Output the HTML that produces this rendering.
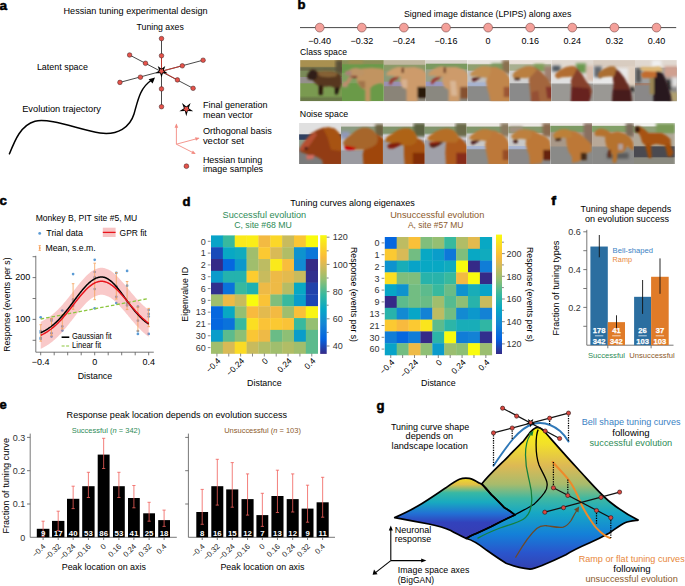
<!DOCTYPE html>
<html><head><meta charset="utf-8"><style>
html,body{margin:0;padding:0;background:#fff;}
svg{display:block;}
text{font-family:"Liberation Sans", sans-serif;}
</style></head><body>
<svg width="685" height="586" viewBox="0 0 685 586" font-family="Liberation Sans, sans-serif">
<defs>
<filter id="bl1" x="-10%" y="-10%" width="120%" height="120%"><feGaussianBlur stdDeviation="0.9"/><feColorMatrix type="matrix" values="0.95 -0.03 -0.03 0 0  -0.03 0.9 -0.03 0 0  -0.02 -0.02 0.86 0 0  0 0 0 1 0"/></filter>
<filter id="bl2" x="-10%" y="-10%" width="120%" height="120%"><feGaussianBlur stdDeviation="0.9"/><feColorMatrix type="matrix" values="0.9 -0.03 -0.03 0 0  -0.05 0.8 -0.05 0 0  -0.04 -0.04 0.74 0 0  0 0 0 1 0"/></filter>
<filter id="bl0" x="-10%" y="-10%" width="120%" height="120%"><feGaussianBlur stdDeviation="1.5"/></filter>
<clipPath id="cph1"><rect x="300.10" y="60.10" width="41.95" height="41.20"/></clipPath>
<linearGradient id="gph1" x1="0" y1="0" x2="0" y2="1"><stop offset="0.000" stop-color="#a89050"/><stop offset="0.151" stop-color="#a89050"/><stop offset="0.187" stop-color="#6a6a48"/><stop offset="0.240" stop-color="#6a6a48"/><stop offset="0.276" stop-color="#7a8a58"/><stop offset="0.400" stop-color="#7a8a58"/><stop offset="0.418" stop-color="#94908c"/><stop offset="0.543" stop-color="#94908c"/><stop offset="0.578" stop-color="#7a9a50"/><stop offset="0.863" stop-color="#7a9a50"/><stop offset="0.934" stop-color="#6a7a48"/><stop offset="0.996" stop-color="#6a7a48"/></linearGradient>
<clipPath id="cph2"><rect x="341.95" y="60.10" width="41.95" height="41.20"/></clipPath>
<linearGradient id="gph2" x1="0" y1="0" x2="0" y2="1"><stop offset="0.000" stop-color="#8a9058"/><stop offset="0.080" stop-color="#8a9058"/><stop offset="0.116" stop-color="#6a9a4a"/><stop offset="0.294" stop-color="#6a9a4a"/><stop offset="0.329" stop-color="#80a060"/><stop offset="0.543" stop-color="#80a060"/><stop offset="0.578" stop-color="#6a9a48"/><stop offset="0.996" stop-color="#6a9a48"/></linearGradient>
<clipPath id="cph3"><rect x="383.80" y="60.10" width="41.95" height="41.20"/></clipPath>
<linearGradient id="gph3" x1="0" y1="0" x2="0" y2="1"><stop offset="0.000" stop-color="#c0b8a0"/><stop offset="0.098" stop-color="#c0b8a0"/><stop offset="0.133" stop-color="#8a9a68"/><stop offset="0.240" stop-color="#8a9a68"/><stop offset="0.276" stop-color="#8a9a78"/><stop offset="0.507" stop-color="#8a9a78"/><stop offset="0.543" stop-color="#9a90b0"/><stop offset="0.614" stop-color="#9a90b0"/><stop offset="0.649" stop-color="#8a8478"/><stop offset="0.996" stop-color="#8a8478"/></linearGradient>
<clipPath id="cph4"><rect x="425.65" y="60.10" width="41.95" height="41.20"/></clipPath>
<linearGradient id="gph4" x1="0" y1="0" x2="0" y2="1"><stop offset="0.000" stop-color="#d8d4cc"/><stop offset="0.071" stop-color="#d8d4cc"/><stop offset="0.107" stop-color="#7a9a60"/><stop offset="0.205" stop-color="#7a9a60"/><stop offset="0.240" stop-color="#9aa088"/><stop offset="0.507" stop-color="#9aa088"/><stop offset="0.543" stop-color="#9a98c0"/><stop offset="0.614" stop-color="#9a98c0"/><stop offset="0.649" stop-color="#8a8880"/><stop offset="0.996" stop-color="#8a8880"/></linearGradient>
<clipPath id="cph5"><rect x="467.50" y="60.10" width="41.95" height="41.20"/></clipPath>
<linearGradient id="gph5" x1="0" y1="0" x2="0" y2="1"><stop offset="0.000" stop-color="#e8e4e0"/><stop offset="0.080" stop-color="#e8e4e0"/><stop offset="0.116" stop-color="#90a070"/><stop offset="0.240" stop-color="#90a070"/><stop offset="0.276" stop-color="#c0c0c0"/><stop offset="0.507" stop-color="#c0c0c0"/><stop offset="0.561" stop-color="#a8b4d0"/><stop offset="0.614" stop-color="#a8b4d0"/><stop offset="0.649" stop-color="#8a8a88"/><stop offset="0.996" stop-color="#8a8a88"/></linearGradient>
<clipPath id="cph6"><rect x="509.35" y="60.10" width="41.95" height="41.20"/></clipPath>
<linearGradient id="gph6" x1="0" y1="0" x2="0" y2="1"><stop offset="0.000" stop-color="#e8e0d8"/><stop offset="0.080" stop-color="#e8e0d8"/><stop offset="0.116" stop-color="#a8b090"/><stop offset="0.240" stop-color="#a8b090"/><stop offset="0.276" stop-color="#d0d0d0"/><stop offset="0.543" stop-color="#d0d0d0"/><stop offset="0.578" stop-color="#8a8a8a"/><stop offset="0.996" stop-color="#8a8a8a"/></linearGradient>
<clipPath id="cph7"><rect x="551.20" y="60.10" width="41.95" height="41.20"/></clipPath>
<linearGradient id="gph7" x1="0" y1="0" x2="0" y2="1"><stop offset="0.000" stop-color="#e0d8d0"/><stop offset="0.116" stop-color="#e0d8d0"/><stop offset="0.276" stop-color="#e0e0e0"/><stop offset="0.543" stop-color="#e0e0e0"/><stop offset="0.596" stop-color="#9a9894"/><stop offset="0.996" stop-color="#9a9894"/></linearGradient>
<clipPath id="cph8"><rect x="593.05" y="60.10" width="41.95" height="41.20"/></clipPath>
<linearGradient id="gph8" x1="0" y1="0" x2="0" y2="1"><stop offset="0.000" stop-color="#d8ccc0"/><stop offset="0.133" stop-color="#d8ccc0"/><stop offset="0.240" stop-color="#e8e8e8"/><stop offset="0.543" stop-color="#e8e8e8"/><stop offset="0.614" stop-color="#9a9894"/><stop offset="0.996" stop-color="#9a9894"/></linearGradient>
<clipPath id="cph9"><rect x="634.90" y="60.10" width="41.95" height="41.20"/></clipPath>
<linearGradient id="gph9" x1="0" y1="0" x2="0" y2="1"><stop offset="0.000" stop-color="#e0d8d0"/><stop offset="0.169" stop-color="#e0d8d0"/><stop offset="0.205" stop-color="#a0a0a0"/><stop offset="0.543" stop-color="#a0a0a0"/><stop offset="0.561" stop-color="#a08070"/><stop offset="0.596" stop-color="#a08070"/><stop offset="0.632" stop-color="#8a8888"/><stop offset="0.996" stop-color="#8a8888"/></linearGradient>
<clipPath id="cph10"><rect x="299.10" y="123.00" width="41.95" height="41.00"/></clipPath>
<linearGradient id="gph10" x1="0" y1="0" x2="0" y2="1"><stop offset="0.002" stop-color="#e0e0e0"/><stop offset="0.262" stop-color="#e0e0e0"/><stop offset="0.289" stop-color="#304060"/><stop offset="0.396" stop-color="#304060"/><stop offset="0.423" stop-color="#8a9a8a"/><stop offset="0.566" stop-color="#8a9a8a"/><stop offset="0.691" stop-color="#7a7a7a"/><stop offset="1.000" stop-color="#7a7a7a"/></linearGradient>
<clipPath id="cph11"><rect x="340.95" y="123.00" width="41.95" height="41.00"/></clipPath>
<linearGradient id="gph11" x1="0" y1="0" x2="0" y2="1"><stop offset="0.002" stop-color="#e0dcd8"/><stop offset="0.074" stop-color="#e0dcd8"/><stop offset="0.101" stop-color="#8a9a80"/><stop offset="0.244" stop-color="#8a9a80"/><stop offset="0.333" stop-color="#c0c0c8"/><stop offset="0.637" stop-color="#c0c0c8"/><stop offset="0.691" stop-color="#9a9aa0"/><stop offset="1.000" stop-color="#9a9aa0"/></linearGradient>
<clipPath id="cph12"><rect x="382.80" y="123.00" width="41.95" height="41.00"/></clipPath>
<linearGradient id="gph12" x1="0" y1="0" x2="0" y2="1"><stop offset="0.002" stop-color="#e8e4e0"/><stop offset="0.074" stop-color="#e8e4e0"/><stop offset="0.101" stop-color="#80946c"/><stop offset="0.244" stop-color="#80946c"/><stop offset="0.297" stop-color="#d0d0d8"/><stop offset="0.387" stop-color="#d0d0d8"/><stop offset="0.441" stop-color="#a0a0a8"/><stop offset="1.000" stop-color="#a0a0a8"/></linearGradient>
<clipPath id="cph13"><rect x="424.65" y="123.00" width="41.95" height="41.00"/></clipPath>
<linearGradient id="gph13" x1="0" y1="0" x2="0" y2="1"><stop offset="0.002" stop-color="#e8e4e0"/><stop offset="0.074" stop-color="#e8e4e0"/><stop offset="0.101" stop-color="#80946c"/><stop offset="0.244" stop-color="#80946c"/><stop offset="0.297" stop-color="#d0d0d8"/><stop offset="0.387" stop-color="#d0d0d8"/><stop offset="0.441" stop-color="#a0a0a8"/><stop offset="1.000" stop-color="#a0a0a8"/></linearGradient>
<clipPath id="cph14"><rect x="466.50" y="123.00" width="41.95" height="41.00"/></clipPath>
<linearGradient id="gph14" x1="0" y1="0" x2="0" y2="1"><stop offset="0.002" stop-color="#ece8e4"/><stop offset="0.074" stop-color="#ece8e4"/><stop offset="0.101" stop-color="#80966a"/><stop offset="0.226" stop-color="#80966a"/><stop offset="0.280" stop-color="#c8c8c8"/><stop offset="0.548" stop-color="#c8c8c8"/><stop offset="0.575" stop-color="#a8b4d0"/><stop offset="0.619" stop-color="#a8b4d0"/><stop offset="0.655" stop-color="#8a8a88"/><stop offset="1.000" stop-color="#8a8a88"/></linearGradient>
<clipPath id="cph15"><rect x="508.35" y="123.00" width="41.95" height="41.00"/></clipPath>
<linearGradient id="gph15" x1="0" y1="0" x2="0" y2="1"><stop offset="0.002" stop-color="#ece8e4"/><stop offset="0.074" stop-color="#ece8e4"/><stop offset="0.101" stop-color="#84986c"/><stop offset="0.226" stop-color="#84986c"/><stop offset="0.262" stop-color="#c8c8c8"/><stop offset="0.548" stop-color="#c8c8c8"/><stop offset="0.575" stop-color="#a8b4d0"/><stop offset="0.619" stop-color="#a8b4d0"/><stop offset="0.655" stop-color="#8a8888"/><stop offset="1.000" stop-color="#8a8888"/></linearGradient>
<clipPath id="cph16"><rect x="550.20" y="123.00" width="41.95" height="41.00"/></clipPath>
<linearGradient id="gph16" x1="0" y1="0" x2="0" y2="1"><stop offset="0.002" stop-color="#ece8e4"/><stop offset="0.056" stop-color="#ece8e4"/><stop offset="0.083" stop-color="#7c9a64"/><stop offset="0.199" stop-color="#7c9a64"/><stop offset="0.244" stop-color="#a89888"/><stop offset="0.548" stop-color="#a89888"/><stop offset="0.601" stop-color="#8a8a88"/><stop offset="1.000" stop-color="#8a8a88"/></linearGradient>
<clipPath id="cph17"><rect x="592.05" y="123.00" width="41.95" height="41.00"/></clipPath>
<linearGradient id="gph17" x1="0" y1="0" x2="0" y2="1"><stop offset="0.002" stop-color="#f0ece8"/><stop offset="0.056" stop-color="#f0ece8"/><stop offset="0.083" stop-color="#82a068"/><stop offset="0.199" stop-color="#82a068"/><stop offset="0.244" stop-color="#b8a898"/><stop offset="0.548" stop-color="#b8a898"/><stop offset="0.601" stop-color="#8a8a88"/><stop offset="1.000" stop-color="#8a8a88"/></linearGradient>
<clipPath id="cph18"><rect x="633.90" y="123.00" width="41.00" height="41.00"/></clipPath>
<linearGradient id="gph18" x1="0" y1="0" x2="0" y2="1"><stop offset="0.002" stop-color="#f0f0ec"/><stop offset="0.065" stop-color="#f0f0ec"/><stop offset="0.101" stop-color="#90a078"/><stop offset="0.226" stop-color="#90a078"/><stop offset="0.262" stop-color="#b0a898"/><stop offset="0.548" stop-color="#b0a898"/><stop offset="0.584" stop-color="#4a4a50"/><stop offset="0.816" stop-color="#4a4a50"/><stop offset="0.852" stop-color="#8a8a80"/><stop offset="1.000" stop-color="#8a8a80"/></linearGradient>
<linearGradient id="parv" x1="0" y1="0" x2="0" y2="1"><stop offset="0.000" stop-color="#f9fb0e"/><stop offset="0.062" stop-color="#fae41e"/><stop offset="0.125" stop-color="#fcce2e"/><stop offset="0.188" stop-color="#f8bb3d"/><stop offset="0.250" stop-color="#d9ba56"/><stop offset="0.312" stop-color="#b6bc64"/><stop offset="0.375" stop-color="#92bf73"/><stop offset="0.438" stop-color="#65bc88"/><stop offset="0.500" stop-color="#38b99e"/><stop offset="0.562" stop-color="#1fb0b2"/><stop offset="0.625" stop-color="#06a7c6"/><stop offset="0.688" stop-color="#0d96cd"/><stop offset="0.750" stop-color="#1485d4"/><stop offset="0.812" stop-color="#0c74da"/><stop offset="0.875" stop-color="#0363e1"/><stop offset="0.938" stop-color="#1c46b4"/><stop offset="1.000" stop-color="#352a87"/></linearGradient>
<linearGradient id="gmt" gradientUnits="userSpaceOnUse" x1="0" y1="427" x2="0" y2="570">
<stop offset="0" stop-color="#f9f50f"/><stop offset="0.12" stop-color="#f2e02a"/><stop offset="0.27" stop-color="#ddb954"/>
<stop offset="0.40" stop-color="#a8bb6c"/><stop offset="0.50" stop-color="#3fb8a2"/><stop offset="0.60" stop-color="#17a8c4"/>
<stop offset="0.75" stop-color="#1480d8"/><stop offset="0.88" stop-color="#2a55cc"/><stop offset="1" stop-color="#3440b0"/></linearGradient>
<linearGradient id="ghl" gradientUnits="userSpaceOnUse" x1="0" y1="477" x2="0" y2="540">
<stop offset="0" stop-color="#f5e020"/><stop offset="0.12" stop-color="#e0c048"/><stop offset="0.25" stop-color="#38b8a4"/>
<stop offset="0.40" stop-color="#18aac0"/><stop offset="0.58" stop-color="#2270d4"/><stop offset="0.72" stop-color="#3242bc"/><stop offset="1" stop-color="#3a3ab0"/></linearGradient>
</defs>
<rect width="685" height="586" fill="#fff"/>
<text x="-0.40" y="9.60" font-size="12" fill="#000" font-weight="bold" textLength="7.60" lengthAdjust="spacingAndGlyphs" stroke="#000" stroke-width="0.5">a</text>
<text x="63.50" y="14.00" font-size="9" textLength="144.10" lengthAdjust="spacingAndGlyphs" >Hessian tuning experimental design</text>
<text x="136.60" y="30.40" font-size="9" textLength="47.20" lengthAdjust="spacingAndGlyphs" >Tuning axes</text>
<text x="36.90" y="69.50" font-size="9" textLength="51.10" lengthAdjust="spacingAndGlyphs" >Latent space</text>
<text x="22.20" y="112.00" font-size="9" textLength="78.70" lengthAdjust="spacingAndGlyphs" >Evolution trajectory</text>
<text x="202.90" y="107.50" font-size="9" textLength="64.60" lengthAdjust="spacingAndGlyphs" >Final generation</text>
<text x="202.90" y="117.50" font-size="9" textLength="49.80" lengthAdjust="spacingAndGlyphs" >mean vector</text>
<text x="202.90" y="134.30" font-size="9" textLength="69.00" lengthAdjust="spacingAndGlyphs" >Orthogonal basis</text>
<text x="202.90" y="144.00" font-size="9" textLength="41.00" lengthAdjust="spacingAndGlyphs" >vector set</text>
<text x="202.90" y="162.80" font-size="9" textLength="59.40" lengthAdjust="spacingAndGlyphs" >Hessian tuning</text>
<text x="202.90" y="172.10" font-size="9" textLength="60.20" lengthAdjust="spacingAndGlyphs" >image samples</text>
<path d="M9.2,154.4 C15,140 21,125 35,121.2 C50,117.5 80,130 100,133 C118,135.5 130,127 134,114 C138,100 140,88 151,80.5" fill="none" stroke="#000" stroke-width="1.5"/>
<polygon points="155,77.6 148.6,79.2 152.6,83.4" fill="#000"/>
<line x1="161.50" y1="38.60" x2="161.50" y2="106.70" stroke="#1a1a1a" stroke-width="0.8" />
<line x1="129.60" y1="55.00" x2="193.10" y2="88.30" stroke="#1a1a1a" stroke-width="0.8" />
<line x1="119.90" y1="82.40" x2="203.10" y2="60.20" stroke="#1a1a1a" stroke-width="0.8" />
<line x1="161.50" y1="71.20" x2="161.50" y2="55.70" stroke="#c8362c" stroke-width="0.9" />
<line x1="161.50" y1="71.20" x2="182.30" y2="65.80" stroke="#c8362c" stroke-width="0.9" />
<line x1="161.50" y1="71.20" x2="177.40" y2="79.90" stroke="#c8362c" stroke-width="0.9" />
<circle cx="161.50" cy="38.60" r="2.3" fill="#e5534b" stroke="#3a2020" stroke-width="0.5" />
<circle cx="161.50" cy="55.70" r="2.3" fill="#e5534b" stroke="#3a2020" stroke-width="0.5" />
<circle cx="161.50" cy="88.90" r="2.3" fill="#e5534b" stroke="#3a2020" stroke-width="0.5" />
<circle cx="161.50" cy="106.70" r="2.3" fill="#e5534b" stroke="#3a2020" stroke-width="0.5" />
<circle cx="129.60" cy="55.00" r="2.3" fill="#e5534b" stroke="#3a2020" stroke-width="0.5" />
<circle cx="145.50" cy="63.30" r="2.3" fill="#e5534b" stroke="#3a2020" stroke-width="0.5" />
<circle cx="177.40" cy="79.90" r="2.3" fill="#e5534b" stroke="#3a2020" stroke-width="0.5" />
<circle cx="193.10" cy="88.30" r="2.3" fill="#e5534b" stroke="#3a2020" stroke-width="0.5" />
<circle cx="119.90" cy="82.40" r="2.3" fill="#e5534b" stroke="#3a2020" stroke-width="0.5" />
<circle cx="140.40" cy="77.20" r="2.3" fill="#e5534b" stroke="#3a2020" stroke-width="0.5" />
<circle cx="182.30" cy="65.80" r="2.3" fill="#e5534b" stroke="#3a2020" stroke-width="0.5" />
<circle cx="203.10" cy="60.20" r="2.3" fill="#e5534b" stroke="#3a2020" stroke-width="0.5" />
<polygon points="161.50,77.60 160.09,73.14 155.41,73.18 159.22,70.46 157.74,66.02 161.50,68.80 165.26,66.02 163.78,70.46 167.59,73.18 162.91,73.14" fill="#000"/>
<polygon points="161.50,74.02 160.51,72.56 158.82,72.07 159.90,70.68 159.84,68.92 161.50,69.52 163.16,68.92 163.10,70.68 164.18,72.07 162.49,72.56" fill="#e5534b"/>
<polygon points="186.30,116.30 184.83,111.02 179.36,111.26 183.92,108.23 182.01,103.09 186.30,106.50 190.59,103.09 188.68,108.23 193.24,111.26 187.77,111.02" fill="#000"/>
<polygon points="186.30,112.21 185.27,110.42 183.25,109.99 184.64,108.46 184.41,106.40 186.30,107.25 188.19,106.40 187.96,108.46 189.35,109.99 187.33,110.42" fill="#e5534b"/>
<line x1="176.40" y1="144.20" x2="176.40" y2="124.50" stroke="#f28b82" stroke-width="0.9" />
<polygon points="176.40,123.50 178.20,127.70 174.60,127.70" fill="#f28b82"/>
<line x1="176.40" y1="144.20" x2="198.60" y2="138.20" stroke="#f28b82" stroke-width="0.9" />
<polygon points="199.57,137.94 195.98,140.77 195.04,137.30" fill="#f28b82"/>
<line x1="176.40" y1="144.20" x2="194.90" y2="153.60" stroke="#f28b82" stroke-width="0.9" />
<polygon points="195.79,154.05 191.23,153.76 192.86,150.55" fill="#f28b82"/>
<circle cx="186.40" cy="166.20" r="2.4" fill="#e5534b" stroke="#3a2020" stroke-width="0.5" />
<text x="297.60" y="9.40" font-size="12" fill="#000" font-weight="bold" textLength="8.00" lengthAdjust="spacingAndGlyphs" stroke="#000" stroke-width="0.5">b</text>
<text x="404.00" y="16.90" font-size="9" textLength="167.40" lengthAdjust="spacingAndGlyphs" >Signed image distance (LPIPS) along axes</text>
<line x1="300.00" y1="27.60" x2="676.20" y2="27.60" stroke="#333" stroke-width="0.9" />
<circle cx="319.70" cy="27.60" r="4.4" fill="#f4a09a" stroke="#7a4a48" stroke-width="0.6" />
<text x="319.70" y="44.30" font-size="9" text-anchor="middle" >−0.40</text>
<circle cx="361.80" cy="27.60" r="4.4" fill="#f4a09a" stroke="#7a4a48" stroke-width="0.6" />
<text x="361.80" y="44.30" font-size="9" text-anchor="middle" >−0.32</text>
<circle cx="403.90" cy="27.60" r="4.4" fill="#f4a09a" stroke="#7a4a48" stroke-width="0.6" />
<text x="403.90" y="44.30" font-size="9" text-anchor="middle" >−0.24</text>
<circle cx="446.00" cy="27.60" r="4.4" fill="#f4a09a" stroke="#7a4a48" stroke-width="0.6" />
<text x="446.00" y="44.30" font-size="9" text-anchor="middle" >−0.16</text>
<circle cx="488.10" cy="27.60" r="4.4" fill="#f4a09a" stroke="#7a4a48" stroke-width="0.6" />
<text x="488.10" y="44.30" font-size="9" text-anchor="middle" >0</text>
<circle cx="530.20" cy="27.60" r="4.4" fill="#f4a09a" stroke="#7a4a48" stroke-width="0.6" />
<text x="530.20" y="44.30" font-size="9" text-anchor="middle" >0.16</text>
<circle cx="572.30" cy="27.60" r="4.4" fill="#f4a09a" stroke="#7a4a48" stroke-width="0.6" />
<text x="572.30" y="44.30" font-size="9" text-anchor="middle" >0.24</text>
<circle cx="614.40" cy="27.60" r="4.4" fill="#f4a09a" stroke="#7a4a48" stroke-width="0.6" />
<text x="614.40" y="44.30" font-size="9" text-anchor="middle" >0.32</text>
<circle cx="656.50" cy="27.60" r="4.4" fill="#f4a09a" stroke="#7a4a48" stroke-width="0.6" />
<text x="656.50" y="44.30" font-size="9" text-anchor="middle" >0.40</text>
<text x="300.10" y="54.60" font-size="9" textLength="46.90" lengthAdjust="spacingAndGlyphs" >Class space</text>
<text x="299.80" y="117.10" font-size="9" textLength="48.40" lengthAdjust="spacingAndGlyphs" >Noise space</text>
<g clip-path="url(#cph1)">
<rect x="300.10" y="60.10" width="41.95" height="41.20" fill="url(#gph1)" />
<g filter="url(#bl0)"><polygon points="335.66,60.10 342.99,60.10 342.99,73.66 335.66,73.66" fill="#5a5038"/></g>
<g filter="url(#bl1)"><polygon points="310.00,70.00 313.66,69.26 318.06,71.46 324.66,70.73 332.72,71.10 338.59,72.93 341.52,76.60 341.89,83.19 340.06,88.33 338.59,89.79 337.12,94.19 334.92,94.19 335.66,88.33 330.52,86.13 323.19,86.86 322.46,94.92 318.79,94.92 318.79,86.13 314.40,82.46 312.20,79.53 308.53,79.53 307.06,77.33 307.43,75.13 309.26,72.93" fill="#5a3e26"/><polygon points="318.06,71.83 324.66,71.10 332.72,71.46 337.86,73.30 335.66,76.60 328.33,77.33 320.99,76.60 318.06,74.40" fill="#8a6a40"/><polygon points="307.80,73.66 310.73,70.00 315.13,70.00 317.33,73.66 316.60,78.79 312.93,80.26 308.53,79.16 307.06,76.60" fill="#33241a"/><polygon points="318.94,85.39 322.31,85.39 322.31,94.92 318.94,94.92" fill="#22180f"/><polygon points="334.92,87.59 339.32,87.59 337.86,94.19 334.92,94.19" fill="#22180f"/></g>
</g>
<g clip-path="url(#cph2)">
<rect x="341.95" y="60.10" width="41.95" height="41.20" fill="url(#gph2)" />
<g filter="url(#bl0)"><polygon points="342.10,82.46 347.60,82.46 347.60,86.86 342.10,86.86" fill="#c09080"/><polygon points="348.33,60.10 362.99,60.10 362.99,63.40 348.33,63.40" fill="#a09050"/></g>
<g filter="url(#bl1)"><polygon points="361.53,68.53 371.79,67.80 380.59,68.53 384.99,70.00 384.99,86.86 382.06,83.19 379.12,83.19 373.26,85.39 370.33,88.33 370.33,101.89 365.19,101.89 365.19,89.79 361.53,88.33 357.86,83.93 356.40,79.53 357.13,75.86" fill="#c8a070"/><polygon points="345.40,71.46 347.60,70.73 352.00,68.53 355.66,67.80 360.06,68.53 362.99,70.00 364.46,72.20 362.99,75.13 358.60,76.60 355.66,77.33 352.00,76.60 348.33,75.50 345.40,74.40" fill="#c4a074"/><polygon points="345.40,71.46 351.26,70.73 351.26,75.86 345.40,74.76" fill="#b09088"/><polygon points="350.53,75.86 357.13,75.86 357.13,78.06 350.53,78.06" fill="#8a4038"/><polygon points="348.33,77.33 352.73,77.33 349.06,83.19 345.40,85.39 343.20,86.13 343.93,83.93 346.87,80.99" fill="#c89878"/><polygon points="357.86,80.99 365.19,80.99 365.19,88.33 361.53,88.33 358.60,83.93" fill="#a88058"/></g>
</g>
<g clip-path="url(#cph3)">
<rect x="383.80" y="60.10" width="41.95" height="41.20" fill="url(#gph3)" />
<g filter="url(#bl1)"><polygon points="404.99,67.43 414.52,67.06 422.59,69.26 426.99,73.66 426.99,88.33 422.59,86.86 418.19,88.33 417.46,101.89 406.46,101.89 406.46,89.79 402.79,87.59 400.60,83.19 399.86,78.79 402.06,76.60" fill="#d4a87a"/><polygon points="386.30,73.66 388.13,71.46 393.26,68.53 397.66,67.06 402.79,67.06 407.19,68.53 406.46,73.66 403.53,76.60 397.66,77.33 391.80,75.86 386.67,75.50" fill="#d4aa7c"/><polygon points="401.70,67.80 403.89,67.80 403.89,72.93 401.70,72.93" fill="#6a3a28"/><polygon points="388.87,83.93 390.33,79.53 394.00,77.33 399.13,76.60 397.66,78.79 393.26,80.99 391.06,84.66" fill="#a04038"/><polygon points="417.46,86.86 426.99,86.86 426.99,97.86 417.46,97.86" fill="#2a1a10"/><polygon points="401.33,79.53 407.19,79.53 407.19,88.33 402.06,87.59" fill="#e0c0a0"/></g>
</g>
<g clip-path="url(#cph4)">
<rect x="425.65" y="60.10" width="41.95" height="41.20" fill="url(#gph4)" />
<g filter="url(#bl1)"><polygon points="446.26,67.06 456.52,67.06 464.59,70.00 468.99,75.13 468.99,88.33 464.59,86.86 460.19,88.33 459.46,101.89 448.46,101.89 448.46,89.79 444.79,87.59 442.60,83.19 441.86,78.79 444.06,76.60" fill="#d4a87a"/><polygon points="427.93,74.40 430.13,71.46 436.00,67.80 441.13,66.33 446.26,67.06 449.19,68.53 448.46,73.66 445.53,76.60 439.66,77.33 433.80,75.86 428.30,75.50" fill="#d0a676"/><polygon points="443.70,67.43 445.89,67.43 445.89,72.93 443.70,72.93" fill="#6a3a28"/><polygon points="430.50,83.19 432.33,79.53 436.00,77.33 441.13,76.60 439.66,78.79 435.26,80.99 432.70,84.29" fill="#a04038"/><polygon points="460.19,86.86 468.99,86.86 468.99,98.59 460.19,98.59" fill="#8a5a3a"/><polygon points="449.93,80.99 455.79,80.99 457.26,95.66 451.39,95.66" fill="#e2c4a4"/></g>
</g>
<g clip-path="url(#cph5)">
<rect x="467.50" y="60.10" width="41.95" height="41.20" fill="url(#gph5)" />
<g filter="url(#bl0)"><polygon points="491.19,63.40 502.19,63.40 502.19,71.46 491.19,71.46" fill="#7a9a60"/><polygon points="502.19,60.10 510.99,60.10 510.99,73.66 502.19,73.66" fill="#8a7050"/></g>
<g filter="url(#bl1)"><polygon points="488.99,67.06 496.33,67.06 503.66,70.73 508.06,75.13 510.99,80.99 510.99,101.89 490.46,101.89 488.99,94.19 486.79,86.86 486.06,80.99 487.53,77.33" fill="#c8925a"/><polygon points="469.93,74.40 471.40,72.20 476.53,68.53 481.66,66.33 487.53,66.33 490.46,67.80 491.19,70.73 489.73,75.13 487.53,78.06 481.66,77.33 476.53,76.60 471.40,76.23" fill="#c89a60"/><polygon points="472.13,78.06 476.53,77.33 481.66,77.33 476.53,80.26 473.60,81.73 472.13,80.26" fill="#5a2020"/><polygon points="503.66,86.86 510.99,86.86 510.99,97.12 503.66,97.12" fill="#a06040"/></g>
</g>
<g clip-path="url(#cph6)">
<rect x="509.35" y="60.10" width="41.95" height="41.20" fill="url(#gph6)" />
<g filter="url(#bl0)"><polygon points="533.93,64.13 544.19,64.13 544.19,71.46 533.93,71.46" fill="#80a058"/><polygon points="544.19,66.33 552.99,66.33 552.99,83.19 544.19,83.19" fill="#a08070"/></g>
<g filter="url(#bl1)"><polygon points="529.53,66.33 534.66,67.06 541.26,71.46 547.12,78.06 550.79,83.93 552.99,89.79 552.99,101.89 530.99,101.89 530.26,94.19 529.53,86.86 528.79,80.26 529.53,75.86" fill="#a8704a"/><polygon points="512.30,75.13 514.87,71.46 520.00,68.53 525.86,66.33 530.26,65.96 533.19,67.06 536.86,70.00 530.99,76.60 527.33,78.06 520.00,78.06 514.87,78.79 513.40,77.33" fill="#c08a50"/><polygon points="514.13,77.70 520.00,77.70 520.00,79.89 514.87,80.26" fill="#3a2020"/><polygon points="545.66,86.86 552.99,86.86 552.99,98.59 547.12,98.59" fill="#8a4034"/><polygon points="531.73,91.99 538.33,90.52 539.79,101.89 530.99,101.89" fill="#9a5a40"/></g>
</g>
<g clip-path="url(#cph7)">
<rect x="551.20" y="60.10" width="41.95" height="41.20" fill="url(#gph7)" />
<g filter="url(#bl0)"><polygon points="552.10,65.60 560.53,65.60 560.53,71.46 552.10,71.46" fill="#505860"/><polygon points="575.93,63.40 586.19,63.40 586.19,72.93 575.93,72.93" fill="#6a9a50"/><polygon points="586.19,65.60 594.99,65.60 594.99,80.99 586.19,80.99" fill="#d8c0b0"/></g>
<g filter="url(#bl1)"><polygon points="571.53,66.33 575.93,67.06 581.79,73.66 586.19,80.99 590.59,86.86 592.06,91.26 590.59,97.12 589.12,101.89 570.79,101.89 571.53,94.19 571.53,86.86 570.79,80.99 572.26,76.60" fill="#8a4a34"/><polygon points="571.53,86.86 589.12,88.33 590.59,97.12 589.12,101.89 570.79,101.89" fill="#6a2c28"/><polygon points="555.03,76.60 555.40,73.66 559.80,70.00 565.66,67.06 570.79,65.96 574.46,66.33 576.66,69.26 572.99,76.60 567.86,76.96 562.00,77.33 557.60,78.79" fill="#b87840"/></g>
</g>
<g clip-path="url(#cph8)">
<rect x="593.05" y="60.10" width="41.95" height="41.20" fill="url(#gph8)" />
<g filter="url(#bl0)"><polygon points="594.10,66.33 601.80,66.33 601.80,77.33 594.10,77.33" fill="#606870"/><polygon points="628.19,66.33 636.99,66.33 636.99,88.33 628.19,88.33" fill="#e0d0c0"/><polygon points="629.66,86.13 634.79,86.13 634.79,91.26 629.66,91.26" fill="#202020"/></g>
<g filter="url(#bl1)"><polygon points="613.53,67.06 619.39,71.46 624.52,78.06 628.92,86.13 631.12,91.99 631.86,101.89 612.06,101.89 612.79,91.99 613.53,83.93 612.79,77.33" fill="#6a3028"/><polygon points="612.79,89.79 630.39,89.79 631.86,101.89 612.06,101.89" fill="#4a2020"/><polygon points="597.77,75.86 598.87,72.20 604.00,68.53 609.86,66.33 614.26,66.33 616.46,68.53 614.26,76.60 609.13,76.60 601.80,77.33 599.60,78.43" fill="#b07840"/></g>
</g>
<g clip-path="url(#cph9)">
<rect x="634.90" y="60.10" width="41.95" height="41.20" fill="url(#gph9)" />
<g filter="url(#bl0)"><polygon points="651.86,60.10 661.39,60.10 661.39,67.06 651.86,67.06" fill="#f0f0f0"/><polygon points="636.10,68.53 640.87,68.53 640.87,82.46 636.10,82.46" fill="#505050"/><polygon points="664.33,66.33 678.99,66.33 678.99,77.33 664.33,77.33" fill="#d0a090"/><polygon points="665.79,79.53 671.66,79.53 671.66,89.79 665.79,89.79" fill="#303030"/><polygon points="671.66,77.33 678.99,77.33 678.99,86.86 671.66,86.86" fill="#e0e0e0"/><polygon points="667.99,91.99 678.99,91.99 678.99,101.89 667.99,101.89" fill="#b0a070"/></g>
<g filter="url(#bl1)"><polygon points="654.06,71.46 659.19,70.73 662.86,73.66 665.79,79.53 668.72,88.33 670.92,95.66 671.66,101.89 653.33,101.89 653.33,88.33 654.06,77.33" fill="#2a1a24"/><polygon points="649.66,77.33 654.06,77.33 654.06,94.19 649.66,94.19" fill="#a09060"/><polygon points="640.87,73.66 645.26,70.73 656.26,70.73 656.26,77.33 649.66,78.06 642.33,78.06" fill="#c87840"/><polygon points="639.40,68.53 642.33,66.70 652.60,67.06 659.19,66.33 662.86,69.26 662.13,71.46 653.33,71.46 642.33,70.73" fill="#e8c888"/></g>
</g>
<g clip-path="url(#cph10)">
<rect x="299.10" y="123.00" width="41.95" height="41.00" fill="url(#gph10)" />
<g filter="url(#bl2)"><polygon points="299.47,149.86 300.93,146.19 305.33,141.06 310.46,133.73 317.06,130.06 322.93,127.87 328.79,127.13 334.66,128.60 339.06,133.00 341.99,138.13 341.99,164.89 322.93,164.89 322.19,160.12 316.33,156.46 311.20,156.46 305.33,153.52 300.93,152.06" fill="#9a5030"/><polygon points="322.93,128.60 328.79,127.50 334.66,128.96 339.06,133.00 341.99,138.13 341.99,151.33 330.99,149.86 327.33,136.66" fill="#b06838"/><polygon points="299.47,149.86 302.40,143.99 308.26,136.66 314.86,132.26 317.06,134.46 312.66,141.06 308.26,146.93 303.87,150.59" fill="#c06850"/><polygon points="304.60,146.93 307.53,146.93 307.53,149.86 304.60,149.86" fill="#402020"/><polygon points="306.06,155.36 314.13,154.99 313.40,159.02 306.80,159.39" fill="#e08a80"/></g>
</g>
<g clip-path="url(#cph11)">
<rect x="340.95" y="123.00" width="41.95" height="41.00" fill="url(#gph11)" />
<g filter="url(#bl0)"><polygon points="341.10,131.53 349.53,131.53 349.53,138.86 341.10,138.86" fill="#9098b8"/><polygon points="375.19,124.20 383.99,124.20 383.99,136.66 375.19,136.66" fill="#6a6040"/></g>
<g filter="url(#bl2)"><polygon points="364.19,148.39 371.52,146.19 375.19,133.00 383.99,138.86 383.99,164.89 363.46,164.89 362.73,154.26" fill="#a85a30"/><polygon points="342.93,142.53 345.87,138.86 351.00,134.46 356.86,130.06 361.99,127.87 367.86,127.87 372.99,130.06 376.66,134.46 378.12,138.86 376.66,143.99 372.26,146.93 364.93,149.86 354.66,149.86 348.80,148.39 344.40,146.19" fill="#b07a48"/><polygon points="344.40,145.46 349.53,146.19 356.13,147.66 354.66,149.86 348.80,150.23 345.13,149.13" fill="#d03030"/></g>
</g>
<g clip-path="url(#cph12)">
<rect x="382.80" y="123.00" width="41.95" height="41.00" fill="url(#gph12)" />
<g filter="url(#bl0)"><polygon points="413.52,123.10 425.99,123.10 425.99,136.66 413.52,136.66" fill="#5a6040"/></g>
<g filter="url(#bl2)"><polygon points="403.99,143.99 411.33,143.99 417.19,138.13 421.59,140.33 425.99,145.46 425.99,164.89 404.73,164.89 403.99,154.99" fill="#b06838"/><polygon points="412.79,152.79 425.99,152.79 425.99,164.89 412.79,164.89" fill="#8a4028"/><polygon points="385.30,139.60 387.13,136.66 393.00,133.00 398.13,130.06 403.99,128.23 409.86,128.60 414.26,131.53 417.19,136.66 416.46,142.53 411.33,145.46 403.99,145.46 396.66,143.99 389.33,142.53 385.67,141.43" fill="#b8783e"/><polygon points="387.13,145.46 390.80,143.26 398.13,142.53 402.53,143.99 396.66,146.93 393.00,148.39 388.60,148.39" fill="#8a3028"/></g>
</g>
<g clip-path="url(#cph13)">
<rect x="424.65" y="123.00" width="41.95" height="41.00" fill="url(#gph13)" />
<g filter="url(#bl0)"><polygon points="455.52,123.10 467.99,123.10 467.99,136.66 455.52,136.66" fill="#6a6a48"/></g>
<g filter="url(#bl2)"><polygon points="445.99,142.53 454.79,141.06 459.19,136.66 463.59,141.06 467.99,146.19 467.99,164.89 445.99,164.89 445.26,152.79" fill="#b87040"/><polygon points="456.26,152.79 467.99,152.79 467.99,164.89 456.26,164.89" fill="#904030"/><polygon points="426.93,138.86 429.87,135.20 435.73,131.53 441.60,129.33 447.46,128.60 453.33,130.06 457.72,134.46 459.19,139.60 456.26,142.53 449.66,142.53 442.33,141.79 435.00,141.79 429.87,141.06" fill="#c08448"/><polygon points="429.13,143.26 435.00,141.79 443.79,141.79 438.66,145.46 433.53,147.66 430.60,146.93" fill="#5a2a20"/><polygon points="429.50,142.53 438.66,141.43 438.66,143.26 429.87,143.99" fill="#b04030"/></g>
</g>
<g clip-path="url(#cph14)">
<rect x="466.50" y="123.00" width="41.95" height="41.00" fill="url(#gph14)" />
<g filter="url(#bl0)"><polygon points="500.46,123.10 509.99,123.10 509.99,136.66 500.46,136.66" fill="#8a7a60"/></g>
<g filter="url(#bl2)"><polygon points="487.99,130.06 495.33,130.80 502.66,134.46 507.06,138.86 509.99,145.46 509.99,164.89 488.73,164.89 487.26,156.46 485.79,149.86 485.06,143.99 486.53,140.33" fill="#c8905a"/><polygon points="468.93,138.13 471.13,135.20 476.26,131.53 482.13,129.33 487.99,129.33 492.39,131.53 490.19,138.13 486.53,141.06 480.66,140.33 474.80,140.33 470.40,139.60" fill="#c8945a"/><polygon points="471.13,141.06 475.53,140.33 480.66,140.33 475.53,143.26 472.60,144.73 471.13,143.26" fill="#4a2020"/><polygon points="502.66,149.86 509.99,149.86 509.99,160.12 502.66,160.12" fill="#a06040"/></g>
</g>
<g clip-path="url(#cph15)">
<rect x="508.35" y="123.00" width="41.95" height="41.00" fill="url(#gph15)" />
<g filter="url(#bl0)"><polygon points="542.46,123.10 551.99,123.10 551.99,136.66 542.46,136.66" fill="#8a6a50"/><polygon points="509.10,126.40 522.66,126.40 522.66,133.00 509.10,133.00" fill="#a09080"/></g>
<g filter="url(#bl2)"><polygon points="526.33,130.06 533.66,130.80 540.99,134.46 546.12,136.66 549.79,140.33 551.99,151.33 549.06,154.26 543.19,157.19 541.72,163.06 529.99,164.89 529.26,155.72 527.06,149.86 525.60,143.99 526.33,138.86" fill="#c89058"/><polygon points="510.93,135.93 513.87,133.00 519.00,130.06 524.86,129.33 529.99,130.06 532.19,133.73 529.99,138.86 526.33,139.60 521.20,138.86 515.33,139.60 512.40,138.86" fill="#c8985e"/><polygon points="513.13,139.96 517.53,139.60 517.53,142.89 513.87,143.26" fill="#3a1a18"/><polygon points="543.19,149.86 551.99,149.86 551.99,160.12 543.19,160.12" fill="#6a3020"/></g>
</g>
<g clip-path="url(#cph16)">
<rect x="550.20" y="123.00" width="41.95" height="41.00" fill="url(#gph16)" />
<g filter="url(#bl0)"><polygon points="583.72,123.10 593.99,123.10 593.99,146.19 583.72,146.19" fill="#8a7060"/></g>
<g filter="url(#bl2)"><polygon points="566.86,130.06 575.66,131.53 581.52,135.20 586.66,139.60 591.06,143.99 591.79,151.33 586.66,153.52 582.99,157.19 579.33,161.59 571.99,163.06 571.99,157.19 568.33,151.33 566.86,145.46 566.13,139.60" fill="#c89058"/><polygon points="552.93,135.20 555.87,131.53 561.00,129.33 566.86,129.33 571.26,131.53 571.99,136.66 568.33,138.13 563.20,137.40 557.33,138.86 554.40,138.13" fill="#c8985a"/><polygon points="555.13,138.50 561.00,137.76 561.00,140.33 555.87,141.06" fill="#3a2018"/><polygon points="580.79,152.79 586.66,152.79 586.66,160.12 580.79,160.12" fill="#4a3020"/></g>
</g>
<g clip-path="url(#cph17)">
<rect x="592.05" y="123.00" width="41.95" height="41.00" fill="url(#gph17)" />
<g filter="url(#bl0)"><polygon points="625.72,123.10 633.79,123.10 633.79,136.66 625.72,136.66" fill="#7a6a5a"/><polygon points="606.66,152.79 628.66,152.79 628.66,158.66 606.66,158.66" fill="#5a5a5a"/></g>
<g filter="url(#bl2)"><polygon points="605.20,135.20 611.06,133.00 617.66,131.53 624.99,133.73 630.12,137.40 633.06,142.53 633.79,149.86 631.59,149.86 627.19,146.19 624.26,151.33 621.33,152.79 617.66,152.79 616.93,158.66 616.19,163.06 612.53,163.06 612.53,154.99 609.60,149.86 606.66,146.93 605.20,141.06" fill="#c08850"/><polygon points="594.20,133.00 596.40,130.06 600.80,128.60 606.66,130.06 611.06,133.00 609.60,136.66 605.20,136.66 599.33,135.93 595.67,135.93" fill="#c08850"/><polygon points="608.28,149.86 610.91,149.86 610.91,157.19 608.28,157.19" fill="#6a3020"/><polygon points="618.39,143.99 622.79,143.99 622.79,149.86 618.39,149.86" fill="#c0c0c0"/></g>
</g>
<g clip-path="url(#cph18)">
<rect x="633.90" y="123.00" width="41.00" height="41.00" fill="url(#gph18)" />
<g filter="url(#bl0)"><polygon points="655.99,123.10 677.99,123.10 677.99,133.00 655.99,133.00" fill="#7a9a58"/><polygon points="675.94,122.00 679.45,122.00 679.45,165.99 675.94,165.99" fill="#ffffff"/></g>
<g filter="url(#bl2)"><polygon points="635.10,126.40 639.87,126.40 644.26,129.33 648.66,133.00 655.99,133.00 661.86,133.00 666.99,135.93 670.66,139.60 670.66,146.19 672.86,151.33 673.59,153.52 670.66,154.26 667.72,151.33 664.79,145.46 655.99,143.99 650.86,145.46 650.86,157.19 648.66,157.92 647.20,151.33 645.73,145.46 642.06,142.53 640.60,136.66 638.40,133.00 635.10,132.26" fill="#b06838"/><polygon points="635.10,126.40 639.13,126.40 640.23,130.06 639.13,132.26 635.10,132.26" fill="#3a2018"/><polygon points="645.00,143.99 650.86,143.99 651.60,157.92 648.66,157.92" fill="#a86030"/><polygon points="664.79,143.99 670.66,143.99 672.12,156.46 667.72,156.46" fill="#a86030"/></g>
</g>
<text x="-0.40" y="205.40" font-size="12" fill="#000" font-weight="bold" textLength="7.40" lengthAdjust="spacingAndGlyphs" stroke="#000" stroke-width="0.5">c</text>
<text x="35.70" y="220.70" font-size="9" textLength="101.60" lengthAdjust="spacingAndGlyphs" >Monkey B, PIT site #5, MU</text>
<circle cx="39.70" cy="233.40" r="1.4" fill="#5b9bd5" stroke="none" stroke-width="0" />
<text x="46.30" y="235.90" font-size="9" textLength="36.70" lengthAdjust="spacingAndGlyphs" >Trial data</text>
<rect x="102.80" y="227.70" width="12.80" height="9.30" fill="#f7c4c4" />
<line x1="102.80" y1="232.40" x2="115.60" y2="232.40" stroke="#e8141c" stroke-width="1.3" />
<text x="119.60" y="235.90" font-size="9" textLength="27.10" lengthAdjust="spacingAndGlyphs" >GPR fit</text>
<line x1="39.70" y1="245.60" x2="39.70" y2="250.40" stroke="#f5a05a" stroke-width="0.9" />
<line x1="38.50" y1="245.60" x2="40.90" y2="245.60" stroke="#f5a05a" stroke-width="0.8" />
<line x1="38.50" y1="250.40" x2="40.90" y2="250.40" stroke="#f5a05a" stroke-width="0.8" />
<circle cx="39.70" cy="248.00" r="0.9" fill="#f5a05a" stroke="none" stroke-width="0" />
<text x="45.50" y="251.10" font-size="9" textLength="50.30" lengthAdjust="spacingAndGlyphs" >Mean, s.e.m.</text>
<line x1="35.80" y1="255.80" x2="35.80" y2="352.20" stroke="#555" stroke-width="0.8" />
<line x1="35.80" y1="352.20" x2="153.80" y2="352.20" stroke="#555" stroke-width="0.8" />
<line x1="32.60" y1="340.30" x2="35.80" y2="340.30" stroke="#555" stroke-width="0.8" />
<line x1="32.60" y1="319.40" x2="35.80" y2="319.40" stroke="#555" stroke-width="0.8" />
<line x1="32.60" y1="298.50" x2="35.80" y2="298.50" stroke="#555" stroke-width="0.8" />
<line x1="32.60" y1="277.60" x2="35.80" y2="277.60" stroke="#555" stroke-width="0.8" />
<line x1="32.60" y1="256.70" x2="35.80" y2="256.70" stroke="#555" stroke-width="0.8" />
<text x="30.20" y="280.00" font-size="9" text-anchor="end" >200</text>
<text x="30.20" y="322.30" font-size="9" text-anchor="end" >100</text>
<line x1="40.70" y1="352.20" x2="40.70" y2="355.30" stroke="#555" stroke-width="0.8" />
<line x1="54.20" y1="352.20" x2="54.20" y2="355.30" stroke="#555" stroke-width="0.8" />
<line x1="67.70" y1="352.20" x2="67.70" y2="355.30" stroke="#555" stroke-width="0.8" />
<line x1="81.20" y1="352.20" x2="81.20" y2="355.30" stroke="#555" stroke-width="0.8" />
<line x1="94.70" y1="352.20" x2="94.70" y2="355.30" stroke="#555" stroke-width="0.8" />
<line x1="108.20" y1="352.20" x2="108.20" y2="355.30" stroke="#555" stroke-width="0.8" />
<line x1="121.70" y1="352.20" x2="121.70" y2="355.30" stroke="#555" stroke-width="0.8" />
<line x1="135.20" y1="352.20" x2="135.20" y2="355.30" stroke="#555" stroke-width="0.8" />
<line x1="148.70" y1="352.20" x2="148.70" y2="355.30" stroke="#555" stroke-width="0.8" />
<text x="40.70" y="364.60" font-size="9" text-anchor="middle" >−0.4</text>
<text x="94.70" y="364.60" font-size="9" text-anchor="middle" >0</text>
<text x="148.70" y="364.60" font-size="9" text-anchor="middle" >0.4</text>
<text x="77.70" y="379.00" font-size="9" textLength="34.50" lengthAdjust="spacingAndGlyphs" >Distance</text>
<text x="10.30" y="304.60" font-size="9" text-anchor="middle" textLength="94.30" lengthAdjust="spacingAndGlyphs" transform="rotate(-90 10.30 304.60)" >Response (events per s)</text>
<circle cx="40.70" cy="317.30" r="1.35" fill="#5b9bd5" stroke="none" stroke-width="0" />
<circle cx="40.70" cy="331.00" r="1.35" fill="#5b9bd5" stroke="none" stroke-width="0" />
<circle cx="40.70" cy="337.80" r="1.35" fill="#5b9bd5" stroke="none" stroke-width="0" />
<circle cx="40.70" cy="339.00" r="1.35" fill="#5b9bd5" stroke="none" stroke-width="0" />
<circle cx="40.70" cy="332.70" r="1.35" fill="#5b9bd5" stroke="none" stroke-width="0" />
<circle cx="51.50" cy="319.00" r="1.35" fill="#5b9bd5" stroke="none" stroke-width="0" />
<circle cx="51.50" cy="320.70" r="1.35" fill="#5b9bd5" stroke="none" stroke-width="0" />
<circle cx="51.50" cy="333.20" r="1.35" fill="#5b9bd5" stroke="none" stroke-width="0" />
<circle cx="51.50" cy="336.60" r="1.35" fill="#5b9bd5" stroke="none" stroke-width="0" />
<circle cx="62.30" cy="310.50" r="1.35" fill="#5b9bd5" stroke="none" stroke-width="0" />
<circle cx="62.30" cy="316.50" r="1.35" fill="#5b9bd5" stroke="none" stroke-width="0" />
<circle cx="62.30" cy="326.40" r="1.35" fill="#5b9bd5" stroke="none" stroke-width="0" />
<circle cx="62.30" cy="330.60" r="1.35" fill="#5b9bd5" stroke="none" stroke-width="0" />
<circle cx="73.10" cy="274.10" r="1.35" fill="#5b9bd5" stroke="none" stroke-width="0" />
<circle cx="73.10" cy="299.40" r="1.35" fill="#5b9bd5" stroke="none" stroke-width="0" />
<circle cx="73.10" cy="301.10" r="1.35" fill="#5b9bd5" stroke="none" stroke-width="0" />
<circle cx="73.10" cy="305.70" r="1.35" fill="#5b9bd5" stroke="none" stroke-width="0" />
<circle cx="94.70" cy="259.80" r="1.35" fill="#5b9bd5" stroke="none" stroke-width="0" />
<circle cx="94.70" cy="272.00" r="1.35" fill="#5b9bd5" stroke="none" stroke-width="0" />
<circle cx="94.70" cy="277.20" r="1.35" fill="#5b9bd5" stroke="none" stroke-width="0" />
<circle cx="94.70" cy="289.10" r="1.35" fill="#5b9bd5" stroke="none" stroke-width="0" />
<circle cx="94.70" cy="308.30" r="1.35" fill="#5b9bd5" stroke="none" stroke-width="0" />
<circle cx="116.30" cy="272.90" r="1.35" fill="#5b9bd5" stroke="none" stroke-width="0" />
<circle cx="116.30" cy="286.20" r="1.35" fill="#5b9bd5" stroke="none" stroke-width="0" />
<circle cx="116.30" cy="296.80" r="1.35" fill="#5b9bd5" stroke="none" stroke-width="0" />
<circle cx="116.30" cy="303.10" r="1.35" fill="#5b9bd5" stroke="none" stroke-width="0" />
<circle cx="127.10" cy="270.90" r="1.35" fill="#5b9bd5" stroke="none" stroke-width="0" />
<circle cx="127.10" cy="285.70" r="1.35" fill="#5b9bd5" stroke="none" stroke-width="0" />
<circle cx="127.10" cy="302.00" r="1.35" fill="#5b9bd5" stroke="none" stroke-width="0" />
<circle cx="127.10" cy="305.40" r="1.35" fill="#5b9bd5" stroke="none" stroke-width="0" />
<circle cx="127.10" cy="303.70" r="1.35" fill="#5b9bd5" stroke="none" stroke-width="0" />
<circle cx="137.90" cy="306.70" r="1.35" fill="#5b9bd5" stroke="none" stroke-width="0" />
<circle cx="137.90" cy="320.70" r="1.35" fill="#5b9bd5" stroke="none" stroke-width="0" />
<circle cx="137.90" cy="331.00" r="1.35" fill="#5b9bd5" stroke="none" stroke-width="0" />
<circle cx="137.90" cy="333.90" r="1.35" fill="#5b9bd5" stroke="none" stroke-width="0" />
<circle cx="148.70" cy="310.00" r="1.35" fill="#5b9bd5" stroke="none" stroke-width="0" />
<circle cx="148.70" cy="313.90" r="1.35" fill="#5b9bd5" stroke="none" stroke-width="0" />
<circle cx="148.70" cy="316.50" r="1.35" fill="#5b9bd5" stroke="none" stroke-width="0" />
<circle cx="148.70" cy="333.90" r="1.35" fill="#5b9bd5" stroke="none" stroke-width="0" />
<polygon points="40.70,321.75 41.38,321.45 42.05,321.13 42.73,320.80 43.40,320.45 44.08,320.10 44.75,319.73 45.43,319.34 46.10,318.94 46.77,318.53 47.45,318.10 48.12,317.66 48.80,317.21 49.48,316.73 50.15,316.25 50.83,315.75 51.50,315.23 52.18,314.70 52.85,314.15 53.52,313.59 54.20,313.01 54.88,312.41 55.55,311.80 56.23,311.18 56.90,310.54 57.58,309.89 58.25,309.22 58.93,308.54 59.60,307.84 60.28,307.13 60.95,306.40 61.62,305.66 62.30,304.91 62.98,304.15 63.65,303.37 64.33,302.59 65.00,301.79 65.67,300.98 66.35,300.17 67.03,299.34 67.70,298.51 68.38,297.67 69.05,296.82 69.72,295.96 70.40,295.11 71.08,294.24 71.75,293.38 72.42,292.51 73.10,291.64 73.78,290.77 74.45,289.90 75.12,289.03 75.80,288.16 76.47,287.30 77.15,286.45 77.83,285.60 78.50,284.75 79.18,283.92 79.85,283.09 80.53,282.27 81.20,281.47 81.88,280.68 82.55,279.90 83.23,279.14 83.90,278.39 84.58,277.66 85.25,276.95 85.92,276.26 86.60,275.59 87.28,274.94 87.95,274.32 88.62,273.71 89.30,273.13 89.98,272.58 90.65,272.06 91.33,271.56 92.00,271.09 92.67,270.65 93.35,270.23 94.03,269.85 94.70,269.50 95.38,269.18 96.05,268.89 96.73,268.64 97.40,268.42 98.08,268.23 98.75,268.08 99.43,267.96 100.10,267.87 100.78,267.82 101.45,267.80 102.12,267.82 102.80,267.87 103.48,267.95 104.15,268.07 104.83,268.23 105.50,268.41 106.18,268.63 106.85,268.89 107.53,269.17 108.20,269.49 108.88,269.83 109.55,270.21 110.22,270.62 110.90,271.06 111.58,271.52 112.25,272.01 112.93,272.53 113.60,273.07 114.28,273.64 114.95,274.23 115.62,274.84 116.30,275.48 116.98,276.13 117.65,276.81 118.32,277.50 119.00,278.21 119.68,278.93 120.35,279.67 121.02,280.42 121.70,281.18 122.38,281.95 123.05,282.73 123.72,283.52 124.40,284.32 125.08,285.12 125.75,285.93 126.42,286.74 127.10,287.56 127.78,288.37 128.45,289.19 129.12,290.00 129.80,290.82 130.47,291.62 131.15,292.43 131.82,293.23 132.50,294.03 133.18,294.82 133.85,295.60 134.53,296.37 135.20,297.14 135.88,297.89 136.55,298.64 137.23,299.37 137.90,300.09 138.57,300.81 139.25,301.50 139.93,302.19 140.60,302.86 141.28,303.52 141.95,304.17 142.62,304.80 143.30,305.41 143.97,306.01 144.65,306.60 145.32,307.17 146.00,307.73 146.68,308.27 147.35,308.79 148.03,309.31 148.70,309.80 148.70,336.80 148.03,336.31 147.35,335.79 146.68,335.27 146.00,334.73 145.32,334.17 144.65,333.60 143.97,333.01 143.30,332.41 142.62,331.80 141.95,331.17 141.28,330.52 140.60,329.86 139.93,329.19 139.25,328.50 138.57,327.81 137.90,327.09 137.23,326.37 136.55,325.64 135.88,324.89 135.20,324.14 134.53,323.37 133.85,322.60 133.18,321.82 132.50,321.03 131.82,320.23 131.15,319.43 130.47,318.62 129.80,317.82 129.12,317.00 128.45,316.19 127.78,315.37 127.10,314.56 126.42,313.74 125.75,312.93 125.08,312.12 124.40,311.32 123.72,310.52 123.05,309.73 122.38,308.95 121.70,308.18 121.02,307.42 120.35,306.67 119.68,305.93 119.00,305.21 118.32,304.50 117.65,303.81 116.98,303.13 116.30,302.48 115.62,301.84 114.95,301.23 114.28,300.64 113.60,300.07 112.93,299.53 112.25,299.01 111.58,298.52 110.90,298.06 110.22,297.62 109.55,297.21 108.88,296.83 108.20,296.49 107.53,296.17 106.85,295.89 106.18,295.63 105.50,295.41 104.83,295.23 104.15,295.07 103.48,294.95 102.80,294.87 102.12,294.82 101.45,294.80 100.78,294.82 100.10,294.87 99.43,294.96 98.75,295.08 98.08,295.23 97.40,295.42 96.73,295.64 96.05,295.89 95.38,296.18 94.70,296.50 94.03,296.85 93.35,297.23 92.67,297.65 92.00,298.09 91.33,298.56 90.65,299.06 89.98,299.58 89.30,300.13 88.62,300.71 87.95,301.32 87.28,301.94 86.60,302.59 85.92,303.26 85.25,303.95 84.58,304.66 83.90,305.39 83.23,306.14 82.55,306.90 81.88,307.68 81.20,308.47 80.53,309.27 79.85,310.09 79.18,310.92 78.50,311.75 77.83,312.60 77.15,313.45 76.47,314.30 75.80,315.16 75.12,316.03 74.45,316.90 73.78,317.77 73.10,318.64 72.42,319.51 71.75,320.38 71.08,321.24 70.40,322.11 69.72,322.96 69.05,323.82 68.38,324.67 67.70,325.51 67.03,326.34 66.35,327.17 65.67,327.98 65.00,328.79 64.33,329.59 63.65,330.37 62.98,331.15 62.30,331.91 61.62,332.66 60.95,333.40 60.28,334.13 59.60,334.84 58.93,335.54 58.25,336.22 57.58,336.89 56.90,337.54 56.23,338.18 55.55,338.80 54.88,339.41 54.20,340.01 53.52,340.59 52.85,341.15 52.18,341.70 51.50,342.23 50.83,342.75 50.15,343.25 49.48,343.73 48.80,344.21 48.12,344.66 47.45,345.10 46.77,345.53 46.10,345.94 45.43,346.34 44.75,346.73 44.08,347.10 43.40,347.45 42.73,347.80 42.05,348.13 41.38,348.45 40.70,348.75" fill="#f07878" fill-opacity="0.40"/>
<g stroke="#f5a05a" stroke-width="0.9" opacity="0.9"><line x1="40.70" y1="324.7" x2="40.70" y2="341.2"/><line x1="39.40" y1="324.7" x2="42.00" y2="324.7"/><line x1="39.40" y1="341.2" x2="42.00" y2="341.2"/></g>
<g stroke="#f5a05a" stroke-width="0.9" opacity="0.9"><line x1="51.50" y1="318.5" x2="51.50" y2="335.2"/><line x1="50.20" y1="318.5" x2="52.80" y2="318.5"/><line x1="50.20" y1="335.2" x2="52.80" y2="335.2"/></g>
<g stroke="#f5a05a" stroke-width="0.9" opacity="0.9"><line x1="62.30" y1="315" x2="62.30" y2="328.8"/><line x1="61.00" y1="315" x2="63.60" y2="315"/><line x1="61.00" y1="328.8" x2="63.60" y2="328.8"/></g>
<g stroke="#f5a05a" stroke-width="0.9" opacity="0.9"><line x1="73.10" y1="283.7" x2="73.10" y2="309.3"/><line x1="71.80" y1="283.7" x2="74.40" y2="283.7"/><line x1="71.80" y1="309.3" x2="74.40" y2="309.3"/></g>
<g stroke="#f5a05a" stroke-width="0.9" opacity="0.9"><line x1="94.70" y1="263.2" x2="94.70" y2="299.7"/><line x1="93.40" y1="263.2" x2="96.00" y2="263.2"/><line x1="93.40" y1="299.7" x2="96.00" y2="299.7"/></g>
<g stroke="#f5a05a" stroke-width="0.9" opacity="0.9"><line x1="116.30" y1="272.6" x2="116.30" y2="299"/><line x1="115.00" y1="272.6" x2="117.60" y2="272.6"/><line x1="115.00" y1="299" x2="117.60" y2="299"/></g>
<g stroke="#f5a05a" stroke-width="0.9" opacity="0.9"><line x1="127.10" y1="281.5" x2="127.10" y2="309.6"/><line x1="125.80" y1="281.5" x2="128.40" y2="281.5"/><line x1="125.80" y1="309.6" x2="128.40" y2="309.6"/></g>
<g stroke="#f5a05a" stroke-width="0.9" opacity="0.9"><line x1="137.90" y1="307" x2="137.90" y2="331"/><line x1="136.60" y1="307" x2="139.20" y2="307"/><line x1="136.60" y1="331" x2="139.20" y2="331"/></g>
<g stroke="#f5a05a" stroke-width="0.9" opacity="0.9"><line x1="148.70" y1="308.4" x2="148.70" y2="326.7"/><line x1="147.40" y1="308.4" x2="150.00" y2="308.4"/><line x1="147.40" y1="326.7" x2="150.00" y2="326.7"/></g>
<line x1="40.70" y1="319.00" x2="148.70" y2="298.50" stroke="#8cc63f" stroke-width="1.3" stroke-dasharray="3.5,2"/>
<path d="M40.70,332.65 L41.38,332.35 L42.05,332.04 L42.73,331.72 L43.40,331.38 L44.08,331.04 L44.75,330.67 L45.43,330.30 L46.10,329.91 L46.77,329.50 L47.45,329.08 L48.12,328.64 L48.80,328.19 L49.48,327.72 L50.15,327.24 L50.83,326.74 L51.50,326.22 L52.18,325.69 L52.85,325.14 L53.52,324.58 L54.20,324.00 L54.88,323.40 L55.55,322.79 L56.23,322.16 L56.90,321.51 L57.58,320.85 L58.25,320.18 L58.93,319.48 L59.60,318.77 L60.28,318.05 L60.95,317.31 L61.62,316.56 L62.30,315.79 L62.98,315.01 L63.65,314.22 L64.33,313.41 L65.00,312.59 L65.67,311.76 L66.35,310.92 L67.03,310.07 L67.70,309.21 L68.38,308.34 L69.05,307.47 L69.72,306.58 L70.40,305.69 L71.08,304.80 L71.75,303.90 L72.42,302.99 L73.10,302.09 L73.78,301.18 L74.45,300.28 L75.12,299.37 L75.80,298.47 L76.47,297.57 L77.15,296.67 L77.83,295.78 L78.50,294.89 L79.18,294.02 L79.85,293.15 L80.53,292.29 L81.20,291.45 L81.88,290.62 L82.55,289.80 L83.23,289.00 L83.90,288.21 L84.58,287.44 L85.25,286.69 L85.92,285.96 L86.60,285.25 L87.28,284.57 L87.95,283.91 L88.62,283.27 L89.30,282.66 L89.98,282.07 L90.65,281.51 L91.33,280.99 L92.00,280.49 L92.67,280.02 L93.35,279.58 L94.03,279.18 L94.70,278.80 L95.38,278.47 L96.05,278.16 L96.73,277.89 L97.40,277.66 L98.08,277.46 L98.75,277.29 L99.43,277.16 L100.10,277.07 L100.78,277.02 L101.45,277.00 L102.12,277.02 L102.80,277.09 L103.48,277.19 L104.15,277.35 L104.83,277.54 L105.50,277.78 L106.18,278.05 L106.85,278.37 L107.53,278.73 L108.20,279.13 L108.88,279.56 L109.55,280.04 L110.22,280.55 L110.90,281.09 L111.58,281.67 L112.25,282.28 L112.93,282.93 L113.60,283.60 L114.28,284.30 L114.95,285.03 L115.62,285.78 L116.30,286.56 L116.98,287.36 L117.65,288.18 L118.32,289.02 L119.00,289.88 L119.68,290.75 L120.35,291.63 L121.02,292.53 L121.70,293.44 L122.38,294.36 L123.05,295.28 L123.72,296.21 L124.40,297.14 L125.08,298.08 L125.75,299.02 L126.42,299.95 L127.10,300.89 L127.78,301.82 L128.45,302.74 L129.12,303.66 L129.80,304.58 L130.47,305.48 L131.15,306.38 L131.82,307.26 L132.50,308.13 L133.18,308.99 L133.85,309.84 L134.53,310.67 L135.20,311.49 L135.88,312.29 L136.55,313.07 L137.23,313.84 L137.90,314.59 L138.57,315.33 L139.25,316.04 L139.93,316.74 L140.60,317.41 L141.28,318.07 L141.95,318.71 L142.62,319.33 L143.30,319.93 L143.97,320.51 L144.65,321.07 L145.32,321.61 L146.00,322.14 L146.68,322.64 L147.35,323.13 L148.03,323.59 L148.70,324.04" fill="none" stroke="#000" stroke-width="1.5"/>
<path d="M40.70,335.25 L41.38,334.95 L42.05,334.63 L42.73,334.30 L43.40,333.95 L44.08,333.60 L44.75,333.23 L45.43,332.84 L46.10,332.44 L46.77,332.03 L47.45,331.60 L48.12,331.16 L48.80,330.71 L49.48,330.23 L50.15,329.75 L50.83,329.25 L51.50,328.73 L52.18,328.20 L52.85,327.65 L53.52,327.09 L54.20,326.51 L54.88,325.91 L55.55,325.30 L56.23,324.68 L56.90,324.04 L57.58,323.39 L58.25,322.72 L58.93,322.04 L59.60,321.34 L60.28,320.63 L60.95,319.90 L61.62,319.16 L62.30,318.41 L62.98,317.65 L63.65,316.87 L64.33,316.09 L65.00,315.29 L65.67,314.48 L66.35,313.67 L67.03,312.84 L67.70,312.01 L68.38,311.17 L69.05,310.32 L69.72,309.46 L70.40,308.61 L71.08,307.74 L71.75,306.88 L72.42,306.01 L73.10,305.14 L73.78,304.27 L74.45,303.40 L75.12,302.53 L75.80,301.66 L76.47,300.80 L77.15,299.95 L77.83,299.10 L78.50,298.25 L79.18,297.42 L79.85,296.59 L80.53,295.77 L81.20,294.97 L81.88,294.18 L82.55,293.40 L83.23,292.64 L83.90,291.89 L84.58,291.16 L85.25,290.45 L85.92,289.76 L86.60,289.09 L87.28,288.44 L87.95,287.82 L88.62,287.21 L89.30,286.63 L89.98,286.08 L90.65,285.56 L91.33,285.06 L92.00,284.59 L92.67,284.15 L93.35,283.73 L94.03,283.35 L94.70,283.00 L95.38,282.68 L96.05,282.39 L96.73,282.14 L97.40,281.92 L98.08,281.73 L98.75,281.58 L99.43,281.46 L100.10,281.37 L100.78,281.32 L101.45,281.30 L102.12,281.32 L102.80,281.37 L103.48,281.45 L104.15,281.57 L104.83,281.73 L105.50,281.91 L106.18,282.13 L106.85,282.39 L107.53,282.67 L108.20,282.99 L108.88,283.33 L109.55,283.71 L110.22,284.12 L110.90,284.56 L111.58,285.02 L112.25,285.51 L112.93,286.03 L113.60,286.57 L114.28,287.14 L114.95,287.73 L115.62,288.34 L116.30,288.98 L116.98,289.63 L117.65,290.31 L118.32,291.00 L119.00,291.71 L119.68,292.43 L120.35,293.17 L121.02,293.92 L121.70,294.68 L122.38,295.45 L123.05,296.23 L123.72,297.02 L124.40,297.82 L125.08,298.62 L125.75,299.43 L126.42,300.24 L127.10,301.06 L127.78,301.87 L128.45,302.69 L129.12,303.50 L129.80,304.32 L130.47,305.12 L131.15,305.93 L131.82,306.73 L132.50,307.53 L133.18,308.32 L133.85,309.10 L134.53,309.87 L135.20,310.64 L135.88,311.39 L136.55,312.14 L137.23,312.87 L137.90,313.59 L138.57,314.31 L139.25,315.00 L139.93,315.69 L140.60,316.36 L141.28,317.02 L141.95,317.67 L142.62,318.30 L143.30,318.91 L143.97,319.51 L144.65,320.10 L145.32,320.67 L146.00,321.23 L146.68,321.77 L147.35,322.29 L148.03,322.81 L148.70,323.30" fill="none" stroke="#e8141c" stroke-width="1.5"/>
<line x1="61.60" y1="337.20" x2="69.30" y2="337.20" stroke="#000" stroke-width="1.6" />
<text x="72.00" y="339.30" font-size="9" textLength="39.70" lengthAdjust="spacingAndGlyphs" >Gaussian fit</text>
<line x1="61.60" y1="346.00" x2="69.30" y2="346.00" stroke="#8cc63f" stroke-width="1.2" stroke-dasharray="3,1.5"/>
<text x="72.00" y="347.70" font-size="9" textLength="29.20" lengthAdjust="spacingAndGlyphs" >Linear fit</text>
<text x="182.40" y="205.60" font-size="12" fill="#000" font-weight="bold" textLength="8.00" lengthAdjust="spacingAndGlyphs" stroke="#000" stroke-width="0.5">d</text>
<text x="290.20" y="205.80" font-size="9" textLength="124.70" lengthAdjust="spacingAndGlyphs" >Tuning curves along eigenaxes</text>
<text x="222.60" y="218.40" font-size="9" fill="#2e8b57" textLength="83.60" lengthAdjust="spacingAndGlyphs" >Successful evolution</text>
<text x="234.20" y="228.20" font-size="9" fill="#2e8b57" textLength="57.70" lengthAdjust="spacingAndGlyphs" >C, site #68 MU</text>
<text x="390.20" y="218.40" font-size="9" fill="#8b5a2b" textLength="94.10" lengthAdjust="spacingAndGlyphs" >Unsuccessful evolution</text>
<text x="407.90" y="227.70" font-size="9" fill="#8b5a2b" textLength="55.50" lengthAdjust="spacingAndGlyphs" >A, site #57 MU</text>
<rect x="211.00" y="235.40" width="12.16" height="12.11" fill="#08a3c8" />
<rect x="222.86" y="235.40" width="12.16" height="12.11" fill="#38b99e" />
<rect x="234.71" y="235.40" width="12.16" height="12.11" fill="#fae91b" />
<rect x="246.57" y="235.40" width="12.16" height="12.11" fill="#faed18" />
<rect x="258.42" y="235.40" width="12.16" height="12.11" fill="#f3ba42" />
<rect x="270.28" y="235.40" width="12.16" height="12.11" fill="#fbd728" />
<rect x="282.13" y="235.40" width="12.16" height="12.11" fill="#c8bb5d" />
<rect x="293.99" y="235.40" width="12.16" height="12.11" fill="#fac634" />
<rect x="305.84" y="235.40" width="12.16" height="12.11" fill="#f9fb0e" />
<rect x="211.00" y="247.21" width="12.16" height="12.11" fill="#194ab9" />
<rect x="222.86" y="247.21" width="12.16" height="12.11" fill="#08a8c4" />
<rect x="234.71" y="247.21" width="12.16" height="12.11" fill="#10abbe" />
<rect x="246.57" y="247.21" width="12.16" height="12.11" fill="#a0be6d" />
<rect x="258.42" y="247.21" width="12.16" height="12.11" fill="#fbc932" />
<rect x="270.28" y="247.21" width="12.16" height="12.11" fill="#d9ba56" />
<rect x="282.13" y="247.21" width="12.16" height="12.11" fill="#b1bd66" />
<rect x="293.99" y="247.21" width="12.16" height="12.11" fill="#0e93ce" />
<rect x="305.84" y="247.21" width="12.16" height="12.11" fill="#0d77d9" />
<rect x="211.00" y="259.02" width="12.16" height="12.11" fill="#352a87" />
<rect x="222.86" y="259.02" width="12.16" height="12.11" fill="#0567df" />
<rect x="234.71" y="259.02" width="12.16" height="12.11" fill="#0c98cc" />
<rect x="246.57" y="259.02" width="12.16" height="12.11" fill="#a0be6d" />
<rect x="258.42" y="259.02" width="12.16" height="12.11" fill="#bdbc62" />
<rect x="270.28" y="259.02" width="12.16" height="12.11" fill="#fae91b" />
<rect x="282.13" y="259.02" width="12.16" height="12.11" fill="#f9bd3c" />
<rect x="293.99" y="259.02" width="12.16" height="12.11" fill="#128ad2" />
<rect x="305.84" y="259.02" width="12.16" height="12.11" fill="#352a87" />
<rect x="211.00" y="270.83" width="12.16" height="12.11" fill="#0b9bcb" />
<rect x="222.86" y="270.83" width="12.16" height="12.11" fill="#24b2ae" />
<rect x="234.71" y="270.83" width="12.16" height="12.11" fill="#24b2ae" />
<rect x="246.57" y="270.83" width="12.16" height="12.11" fill="#fccc2f" />
<rect x="258.42" y="270.83" width="12.16" height="12.11" fill="#c8bb5d" />
<rect x="270.28" y="270.83" width="12.16" height="12.11" fill="#eeba46" />
<rect x="282.13" y="270.83" width="12.16" height="12.11" fill="#e3ba4e" />
<rect x="293.99" y="270.83" width="12.16" height="12.11" fill="#c8bb5d" />
<rect x="305.84" y="270.83" width="12.16" height="12.11" fill="#312f8e" />
<rect x="211.00" y="282.64" width="12.16" height="12.11" fill="#312f8e" />
<rect x="222.86" y="282.64" width="12.16" height="12.11" fill="#0a72db" />
<rect x="234.71" y="282.64" width="12.16" height="12.11" fill="#38b99e" />
<rect x="246.57" y="282.64" width="12.16" height="12.11" fill="#20b0b1" />
<rect x="258.42" y="282.64" width="12.16" height="12.11" fill="#eeba46" />
<rect x="270.28" y="282.64" width="12.16" height="12.11" fill="#eeba46" />
<rect x="282.13" y="282.64" width="12.16" height="12.11" fill="#b7bc64" />
<rect x="293.99" y="282.64" width="12.16" height="12.11" fill="#08a8c4" />
<rect x="305.84" y="282.64" width="12.16" height="12.11" fill="#2141ab" />
<rect x="211.00" y="294.45" width="12.16" height="12.11" fill="#a0be6d" />
<rect x="222.86" y="294.45" width="12.16" height="12.11" fill="#eeba46" />
<rect x="234.71" y="294.45" width="12.16" height="12.11" fill="#c8bb5d" />
<rect x="246.57" y="294.45" width="12.16" height="12.11" fill="#f9fb0e" />
<rect x="258.42" y="294.45" width="12.16" height="12.11" fill="#fac337" />
<rect x="270.28" y="294.45" width="12.16" height="12.11" fill="#80be7c" />
<rect x="282.13" y="294.45" width="12.16" height="12.11" fill="#38b99e" />
<rect x="293.99" y="294.45" width="12.16" height="12.11" fill="#0a9dca" />
<rect x="305.84" y="294.45" width="12.16" height="12.11" fill="#1d45b2" />
<rect x="211.00" y="306.26" width="12.16" height="12.11" fill="#0567df" />
<rect x="222.86" y="306.26" width="12.16" height="12.11" fill="#08a8c4" />
<rect x="234.71" y="306.26" width="12.16" height="12.11" fill="#95bf72" />
<rect x="246.57" y="306.26" width="12.16" height="12.11" fill="#f8ba3e" />
<rect x="258.42" y="306.26" width="12.16" height="12.11" fill="#e3ba4e" />
<rect x="270.28" y="306.26" width="12.16" height="12.11" fill="#f3ba42" />
<rect x="282.13" y="306.26" width="12.16" height="12.11" fill="#a0be6d" />
<rect x="293.99" y="306.26" width="12.16" height="12.11" fill="#f9c039" />
<rect x="305.84" y="306.26" width="12.16" height="12.11" fill="#f9f413" />
<rect x="211.00" y="318.07" width="12.16" height="12.11" fill="#0567df" />
<rect x="222.86" y="318.07" width="12.16" height="12.11" fill="#0a72db" />
<rect x="234.71" y="318.07" width="12.16" height="12.11" fill="#38b99e" />
<rect x="246.57" y="318.07" width="12.16" height="12.11" fill="#fbde22" />
<rect x="258.42" y="318.07" width="12.16" height="12.11" fill="#fac337" />
<rect x="270.28" y="318.07" width="12.16" height="12.11" fill="#fbc932" />
<rect x="282.13" y="318.07" width="12.16" height="12.11" fill="#fac337" />
<rect x="293.99" y="318.07" width="12.16" height="12.11" fill="#38b99e" />
<rect x="305.84" y="318.07" width="12.16" height="12.11" fill="#95bf72" />
<rect x="211.00" y="329.88" width="12.16" height="12.11" fill="#0a9dca" />
<rect x="222.86" y="329.88" width="12.16" height="12.11" fill="#5cbb8d" />
<rect x="234.71" y="329.88" width="12.16" height="12.11" fill="#8ebf75" />
<rect x="246.57" y="329.88" width="12.16" height="12.11" fill="#fac634" />
<rect x="258.42" y="329.88" width="12.16" height="12.11" fill="#eeba46" />
<rect x="270.28" y="329.88" width="12.16" height="12.11" fill="#6abc86" />
<rect x="282.13" y="329.88" width="12.16" height="12.11" fill="#8ebf75" />
<rect x="293.99" y="329.88" width="12.16" height="12.11" fill="#0a9dca" />
<rect x="305.84" y="329.88" width="12.16" height="12.11" fill="#5cbb8d" />
<rect x="211.00" y="341.69" width="12.16" height="12.11" fill="#a0be6d" />
<rect x="222.86" y="341.69" width="12.16" height="12.11" fill="#d9ba56" />
<rect x="234.71" y="341.69" width="12.16" height="12.11" fill="#fbdb25" />
<rect x="246.57" y="341.69" width="12.16" height="12.11" fill="#c8bb5d" />
<rect x="258.42" y="341.69" width="12.16" height="12.11" fill="#b1bd66" />
<rect x="270.28" y="341.69" width="12.16" height="12.11" fill="#a0be6d" />
<rect x="282.13" y="341.69" width="12.16" height="12.11" fill="#b1bd66" />
<rect x="293.99" y="341.69" width="12.16" height="12.11" fill="#a0be6d" />
<rect x="305.84" y="341.69" width="12.16" height="12.11" fill="#5cbb8d" />
<line x1="207.80" y1="241.31" x2="210.50" y2="241.31" stroke="#555" stroke-width="0.7" />
<text x="205.80" y="244.50" font-size="9" text-anchor="end" fill="#333" >0</text>
<line x1="207.80" y1="253.12" x2="210.50" y2="253.12" stroke="#555" stroke-width="0.7" />
<text x="205.80" y="256.31" font-size="9" text-anchor="end" fill="#333" >1</text>
<line x1="207.80" y1="264.93" x2="210.50" y2="264.93" stroke="#555" stroke-width="0.7" />
<text x="205.80" y="268.12" font-size="9" text-anchor="end" fill="#333" >2</text>
<line x1="207.80" y1="276.74" x2="210.50" y2="276.74" stroke="#555" stroke-width="0.7" />
<text x="205.80" y="279.94" font-size="9" text-anchor="end" fill="#333" >3</text>
<line x1="207.80" y1="288.55" x2="210.50" y2="288.55" stroke="#555" stroke-width="0.7" />
<text x="205.80" y="291.75" font-size="9" text-anchor="end" fill="#333" >6</text>
<line x1="207.80" y1="300.36" x2="210.50" y2="300.36" stroke="#555" stroke-width="0.7" />
<text x="205.80" y="303.56" font-size="9" text-anchor="end" fill="#333" >9</text>
<line x1="207.80" y1="312.16" x2="210.50" y2="312.16" stroke="#555" stroke-width="0.7" />
<text x="205.80" y="315.36" font-size="9" text-anchor="end" fill="#333" >13</text>
<line x1="207.80" y1="323.98" x2="210.50" y2="323.98" stroke="#555" stroke-width="0.7" />
<text x="205.80" y="327.18" font-size="9" text-anchor="end" fill="#333" >21</text>
<line x1="207.80" y1="335.78" x2="210.50" y2="335.78" stroke="#555" stroke-width="0.7" />
<text x="205.80" y="338.98" font-size="9" text-anchor="end" fill="#333" >30</text>
<line x1="207.80" y1="347.60" x2="210.50" y2="347.60" stroke="#555" stroke-width="0.7" />
<text x="205.80" y="350.80" font-size="9" text-anchor="end" fill="#333" >60</text>
<line x1="216.93" y1="353.50" x2="216.93" y2="356.50" stroke="#555" stroke-width="0.7" />
<line x1="228.78" y1="353.50" x2="228.78" y2="356.50" stroke="#555" stroke-width="0.7" />
<line x1="240.64" y1="353.50" x2="240.64" y2="356.50" stroke="#555" stroke-width="0.7" />
<line x1="252.49" y1="353.50" x2="252.49" y2="356.50" stroke="#555" stroke-width="0.7" />
<line x1="264.35" y1="353.50" x2="264.35" y2="356.50" stroke="#555" stroke-width="0.7" />
<line x1="276.21" y1="353.50" x2="276.21" y2="356.50" stroke="#555" stroke-width="0.7" />
<line x1="288.06" y1="353.50" x2="288.06" y2="356.50" stroke="#555" stroke-width="0.7" />
<line x1="299.92" y1="353.50" x2="299.92" y2="356.50" stroke="#555" stroke-width="0.7" />
<line x1="311.77" y1="353.50" x2="311.77" y2="356.50" stroke="#555" stroke-width="0.7" />
<text x="221.13" y="361.50" font-size="8.4" text-anchor="end" transform="rotate(-45 221.13 361.50)" >−0.4</text>
<text x="244.84" y="361.50" font-size="8.4" text-anchor="end" transform="rotate(-45 244.84 361.50)" >−0.24</text>
<text x="268.55" y="361.50" font-size="8.4" text-anchor="end" transform="rotate(-45 268.55 361.50)" >0</text>
<text x="292.26" y="361.50" font-size="8.4" text-anchor="end" transform="rotate(-45 292.26 361.50)" >0.24</text>
<text x="315.97" y="361.50" font-size="8.4" text-anchor="end" transform="rotate(-45 315.97 361.50)" >0.4</text>
<text x="264.35" y="385.90" font-size="9" text-anchor="middle" textLength="34.60" lengthAdjust="spacingAndGlyphs" >Distance</text>
<rect x="384.80" y="237.00" width="12.19" height="12.10" fill="#0567df" />
<rect x="396.69" y="237.00" width="12.19" height="12.10" fill="#bdbc62" />
<rect x="408.58" y="237.00" width="12.19" height="12.10" fill="#f9c039" />
<rect x="420.47" y="237.00" width="12.19" height="12.10" fill="#80be7c" />
<rect x="432.36" y="237.00" width="12.19" height="12.10" fill="#95bf72" />
<rect x="444.24" y="237.00" width="12.19" height="12.10" fill="#38b99e" />
<rect x="456.13" y="237.00" width="12.19" height="12.10" fill="#b1bd66" />
<rect x="468.02" y="237.00" width="12.19" height="12.10" fill="#e3ba4e" />
<rect x="479.91" y="237.00" width="12.19" height="12.10" fill="#08a8c4" />
<rect x="384.80" y="248.80" width="12.19" height="12.10" fill="#fbc932" />
<rect x="396.69" y="248.80" width="12.19" height="12.10" fill="#d9ba56" />
<rect x="408.58" y="248.80" width="12.19" height="12.10" fill="#72bd82" />
<rect x="420.47" y="248.80" width="12.19" height="12.10" fill="#08a8c4" />
<rect x="432.36" y="248.80" width="12.19" height="12.10" fill="#0a9dca" />
<rect x="444.24" y="248.80" width="12.19" height="12.10" fill="#0d77d9" />
<rect x="456.13" y="248.80" width="12.19" height="12.10" fill="#80be7c" />
<rect x="468.02" y="248.80" width="12.19" height="12.10" fill="#08a8c4" />
<rect x="479.91" y="248.80" width="12.19" height="12.10" fill="#10abbe" />
<rect x="384.80" y="260.60" width="12.19" height="12.10" fill="#0e93ce" />
<rect x="396.69" y="260.60" width="12.19" height="12.10" fill="#18adb8" />
<rect x="408.58" y="260.60" width="12.19" height="12.10" fill="#08a3c8" />
<rect x="420.47" y="260.60" width="12.19" height="12.10" fill="#08a8c4" />
<rect x="432.36" y="260.60" width="12.19" height="12.10" fill="#08a8c4" />
<rect x="444.24" y="260.60" width="12.19" height="12.10" fill="#10abbe" />
<rect x="456.13" y="260.60" width="12.19" height="12.10" fill="#f9fb0e" />
<rect x="468.02" y="260.60" width="12.19" height="12.10" fill="#352a87" />
<rect x="479.91" y="260.60" width="12.19" height="12.10" fill="#107dd7" />
<rect x="384.80" y="272.40" width="12.19" height="12.10" fill="#fbde22" />
<rect x="396.69" y="272.40" width="12.19" height="12.10" fill="#80be7c" />
<rect x="408.58" y="272.40" width="12.19" height="12.10" fill="#80be7c" />
<rect x="420.47" y="272.40" width="12.19" height="12.10" fill="#28b3ab" />
<rect x="432.36" y="272.40" width="12.19" height="12.10" fill="#28b3ab" />
<rect x="444.24" y="272.40" width="12.19" height="12.10" fill="#38b99e" />
<rect x="456.13" y="272.40" width="12.19" height="12.10" fill="#f3ba42" />
<rect x="468.02" y="272.40" width="12.19" height="12.10" fill="#f9fb0e" />
<rect x="479.91" y="272.40" width="12.19" height="12.10" fill="#352a87" />
<rect x="384.80" y="284.20" width="12.19" height="12.10" fill="#07a6c7" />
<rect x="396.69" y="284.20" width="12.19" height="12.10" fill="#0e93ce" />
<rect x="408.58" y="284.20" width="12.19" height="12.10" fill="#72bd82" />
<rect x="420.47" y="284.20" width="12.19" height="12.10" fill="#5cbb8d" />
<rect x="432.36" y="284.20" width="12.19" height="12.10" fill="#38b99e" />
<rect x="444.24" y="284.20" width="12.19" height="12.10" fill="#6abc86" />
<rect x="456.13" y="284.20" width="12.19" height="12.10" fill="#0e93ce" />
<rect x="468.02" y="284.20" width="12.19" height="12.10" fill="#18adb8" />
<rect x="479.91" y="284.20" width="12.19" height="12.10" fill="#08a3c8" />
<rect x="384.80" y="296.00" width="12.19" height="12.10" fill="#352a87" />
<rect x="396.69" y="296.00" width="12.19" height="12.10" fill="#5cbb8d" />
<rect x="408.58" y="296.00" width="12.19" height="12.10" fill="#72bd82" />
<rect x="420.47" y="296.00" width="12.19" height="12.10" fill="#6abc86" />
<rect x="432.36" y="296.00" width="12.19" height="12.10" fill="#a0be6d" />
<rect x="444.24" y="296.00" width="12.19" height="12.10" fill="#55bb90" />
<rect x="456.13" y="296.00" width="12.19" height="12.10" fill="#8ebf75" />
<rect x="468.02" y="296.00" width="12.19" height="12.10" fill="#28b3ab" />
<rect x="479.91" y="296.00" width="12.19" height="12.10" fill="#c8bb5d" />
<rect x="384.80" y="307.80" width="12.19" height="12.10" fill="#28b3ab" />
<rect x="396.69" y="307.80" width="12.19" height="12.10" fill="#128ad2" />
<rect x="408.58" y="307.80" width="12.19" height="12.10" fill="#07a6c7" />
<rect x="420.47" y="307.80" width="12.19" height="12.10" fill="#1382d5" />
<rect x="432.36" y="307.80" width="12.19" height="12.10" fill="#bdbc62" />
<rect x="444.24" y="307.80" width="12.19" height="12.10" fill="#72bd82" />
<rect x="456.13" y="307.80" width="12.19" height="12.10" fill="#128ad2" />
<rect x="468.02" y="307.80" width="12.19" height="12.10" fill="#0c98cc" />
<rect x="479.91" y="307.80" width="12.19" height="12.10" fill="#1382d5" />
<rect x="384.80" y="319.60" width="12.19" height="12.10" fill="#fbc932" />
<rect x="396.69" y="319.60" width="12.19" height="12.10" fill="#f8ba3e" />
<rect x="408.58" y="319.60" width="12.19" height="12.10" fill="#fbc932" />
<rect x="420.47" y="319.60" width="12.19" height="12.10" fill="#fae51d" />
<rect x="432.36" y="319.60" width="12.19" height="12.10" fill="#5cbb8d" />
<rect x="444.24" y="319.60" width="12.19" height="12.10" fill="#2cb5a8" />
<rect x="456.13" y="319.60" width="12.19" height="12.10" fill="#18adb8" />
<rect x="468.02" y="319.60" width="12.19" height="12.10" fill="#18adb8" />
<rect x="479.91" y="319.60" width="12.19" height="12.10" fill="#30b6a4" />
<rect x="384.80" y="331.40" width="12.19" height="12.10" fill="#107dd7" />
<rect x="396.69" y="331.40" width="12.19" height="12.10" fill="#0567df" />
<rect x="408.58" y="331.40" width="12.19" height="12.10" fill="#107dd7" />
<rect x="420.47" y="331.40" width="12.19" height="12.10" fill="#352a87" />
<rect x="432.36" y="331.40" width="12.19" height="12.10" fill="#2cb5a8" />
<rect x="444.24" y="331.40" width="12.19" height="12.10" fill="#f9fb0e" />
<rect x="456.13" y="331.40" width="12.19" height="12.10" fill="#107dd7" />
<rect x="468.02" y="331.40" width="12.19" height="12.10" fill="#1382d5" />
<rect x="479.91" y="331.40" width="12.19" height="12.10" fill="#312f8e" />
<rect x="384.80" y="343.20" width="12.19" height="12.10" fill="#08a3c8" />
<rect x="396.69" y="343.20" width="12.19" height="12.10" fill="#72bd82" />
<rect x="408.58" y="343.20" width="12.19" height="12.10" fill="#eeba46" />
<rect x="420.47" y="343.20" width="12.19" height="12.10" fill="#8ebf75" />
<rect x="432.36" y="343.20" width="12.19" height="12.10" fill="#0b9bcb" />
<rect x="444.24" y="343.20" width="12.19" height="12.10" fill="#9bbe70" />
<rect x="456.13" y="343.20" width="12.19" height="12.10" fill="#8ebf75" />
<rect x="468.02" y="343.20" width="12.19" height="12.10" fill="#f9fb0e" />
<rect x="479.91" y="343.20" width="12.19" height="12.10" fill="#9bbe70" />
<line x1="381.60" y1="242.90" x2="384.30" y2="242.90" stroke="#555" stroke-width="0.7" />
<text x="379.40" y="246.10" font-size="9" text-anchor="end" fill="#333" >0</text>
<line x1="381.60" y1="254.70" x2="384.30" y2="254.70" stroke="#555" stroke-width="0.7" />
<text x="379.40" y="257.90" font-size="9" text-anchor="end" fill="#333" >1</text>
<line x1="381.60" y1="266.50" x2="384.30" y2="266.50" stroke="#555" stroke-width="0.7" />
<text x="379.40" y="269.70" font-size="9" text-anchor="end" fill="#333" >2</text>
<line x1="381.60" y1="278.30" x2="384.30" y2="278.30" stroke="#555" stroke-width="0.7" />
<text x="379.40" y="281.50" font-size="9" text-anchor="end" fill="#333" >3</text>
<line x1="381.60" y1="290.10" x2="384.30" y2="290.10" stroke="#555" stroke-width="0.7" />
<text x="379.40" y="293.30" font-size="9" text-anchor="end" fill="#333" >6</text>
<line x1="381.60" y1="301.90" x2="384.30" y2="301.90" stroke="#555" stroke-width="0.7" />
<text x="379.40" y="305.10" font-size="9" text-anchor="end" fill="#333" >9</text>
<line x1="381.60" y1="313.70" x2="384.30" y2="313.70" stroke="#555" stroke-width="0.7" />
<text x="379.40" y="316.90" font-size="9" text-anchor="end" fill="#333" >13</text>
<line x1="381.60" y1="325.50" x2="384.30" y2="325.50" stroke="#555" stroke-width="0.7" />
<text x="379.40" y="328.70" font-size="9" text-anchor="end" fill="#333" >21</text>
<line x1="381.60" y1="337.30" x2="384.30" y2="337.30" stroke="#555" stroke-width="0.7" />
<text x="379.40" y="340.50" font-size="9" text-anchor="end" fill="#333" >30</text>
<line x1="381.60" y1="349.10" x2="384.30" y2="349.10" stroke="#555" stroke-width="0.7" />
<text x="379.40" y="352.30" font-size="9" text-anchor="end" fill="#333" >60</text>
<line x1="390.74" y1="355.00" x2="390.74" y2="358.00" stroke="#555" stroke-width="0.7" />
<line x1="402.63" y1="355.00" x2="402.63" y2="358.00" stroke="#555" stroke-width="0.7" />
<line x1="414.52" y1="355.00" x2="414.52" y2="358.00" stroke="#555" stroke-width="0.7" />
<line x1="426.41" y1="355.00" x2="426.41" y2="358.00" stroke="#555" stroke-width="0.7" />
<line x1="438.30" y1="355.00" x2="438.30" y2="358.00" stroke="#555" stroke-width="0.7" />
<line x1="450.19" y1="355.00" x2="450.19" y2="358.00" stroke="#555" stroke-width="0.7" />
<line x1="462.08" y1="355.00" x2="462.08" y2="358.00" stroke="#555" stroke-width="0.7" />
<line x1="473.97" y1="355.00" x2="473.97" y2="358.00" stroke="#555" stroke-width="0.7" />
<line x1="485.86" y1="355.00" x2="485.86" y2="358.00" stroke="#555" stroke-width="0.7" />
<text x="394.94" y="363.00" font-size="8.4" text-anchor="end" transform="rotate(-45 394.94 363.00)" >−0.4</text>
<text x="418.72" y="363.00" font-size="8.4" text-anchor="end" transform="rotate(-45 418.72 363.00)" >−0.24</text>
<text x="442.50" y="363.00" font-size="8.4" text-anchor="end" transform="rotate(-45 442.50 363.00)" >0</text>
<text x="466.28" y="363.00" font-size="8.4" text-anchor="end" transform="rotate(-45 466.28 363.00)" >0.24</text>
<text x="490.06" y="363.00" font-size="8.4" text-anchor="end" transform="rotate(-45 490.06 363.00)" >0.4</text>
<text x="438.30" y="385.90" font-size="9" text-anchor="middle" textLength="34.60" lengthAdjust="spacingAndGlyphs" >Distance</text>
<text x="188.00" y="294.30" font-size="9" text-anchor="middle" textLength="54.70" lengthAdjust="spacingAndGlyphs" transform="rotate(-90 188.00 294.30)" >Eigenvalue ID</text>
<rect x="320.20" y="235.20" width="6.50" height="118.70" fill="url(#parv)" />
<line x1="326.70" y1="237.20" x2="329.50" y2="237.20" stroke="#555" stroke-width="0.7" />
<text x="332.70" y="240.40" font-size="9" fill="#333" >120</text>
<line x1="326.70" y1="264.40" x2="329.50" y2="264.40" stroke="#555" stroke-width="0.7" />
<text x="332.70" y="267.60" font-size="9" fill="#333" >100</text>
<line x1="326.70" y1="291.60" x2="329.50" y2="291.60" stroke="#555" stroke-width="0.7" />
<text x="332.70" y="294.80" font-size="9" fill="#333" >80</text>
<line x1="326.70" y1="318.80" x2="329.50" y2="318.80" stroke="#555" stroke-width="0.7" />
<text x="332.70" y="322.00" font-size="9" fill="#333" >60</text>
<line x1="326.70" y1="346.00" x2="329.50" y2="346.00" stroke="#555" stroke-width="0.7" />
<text x="332.70" y="349.20" font-size="9" fill="#333" >40</text>
<text x="351.00" y="294.50" font-size="9" text-anchor="middle" textLength="95.00" lengthAdjust="spacingAndGlyphs" transform="rotate(90 351.00 294.50)" >Response (events per s)</text>
<line x1="326.70" y1="250.80" x2="328.60" y2="250.80" stroke="#555" stroke-width="0.7" />
<line x1="326.70" y1="278.00" x2="328.60" y2="278.00" stroke="#555" stroke-width="0.7" />
<line x1="326.70" y1="305.20" x2="328.60" y2="305.20" stroke="#555" stroke-width="0.7" />
<line x1="326.70" y1="332.40" x2="328.60" y2="332.40" stroke="#555" stroke-width="0.7" />
<rect x="496.00" y="234.60" width="6.00" height="119.40" fill="url(#parv)" />
<line x1="502.00" y1="253.60" x2="504.80" y2="253.60" stroke="#555" stroke-width="0.7" />
<text x="506.50" y="256.80" font-size="9" fill="#333" >200</text>
<line x1="502.00" y1="276.30" x2="504.80" y2="276.30" stroke="#555" stroke-width="0.7" />
<text x="506.50" y="279.50" font-size="9" fill="#333" >180</text>
<line x1="502.00" y1="299.00" x2="504.80" y2="299.00" stroke="#555" stroke-width="0.7" />
<text x="506.50" y="302.20" font-size="9" fill="#333" >160</text>
<line x1="502.00" y1="321.70" x2="504.80" y2="321.70" stroke="#555" stroke-width="0.7" />
<text x="506.50" y="324.90" font-size="9" fill="#333" >140</text>
<line x1="502.00" y1="343.90" x2="504.80" y2="343.90" stroke="#555" stroke-width="0.7" />
<text x="506.50" y="347.10" font-size="9" fill="#333" >120</text>
<text x="526.50" y="294.50" font-size="9" text-anchor="middle" textLength="95.00" lengthAdjust="spacingAndGlyphs" transform="rotate(90 526.50 294.50)" >Response (events per s)</text>
<line x1="502.00" y1="242.20" x2="503.90" y2="242.20" stroke="#555" stroke-width="0.7" />
<line x1="502.00" y1="264.90" x2="503.90" y2="264.90" stroke="#555" stroke-width="0.7" />
<line x1="502.00" y1="287.60" x2="503.90" y2="287.60" stroke="#555" stroke-width="0.7" />
<line x1="502.00" y1="310.30" x2="503.90" y2="310.30" stroke="#555" stroke-width="0.7" />
<line x1="502.00" y1="333.00" x2="503.90" y2="333.00" stroke="#555" stroke-width="0.7" />
<text x="551.20" y="205.00" font-size="12" fill="#000" font-weight="bold" textLength="4.80" lengthAdjust="spacingAndGlyphs" stroke="#000" stroke-width="0.5">f</text>
<text x="580.60" y="211.50" font-size="9" textLength="90.60" lengthAdjust="spacingAndGlyphs" >Tuning shape depends</text>
<text x="584.90" y="221.50" font-size="9" textLength="84.20" lengthAdjust="spacingAndGlyphs" >on evolution success</text>
<line x1="586.80" y1="229.80" x2="586.80" y2="345.20" stroke="#555" stroke-width="0.8" />
<line x1="586.80" y1="345.20" x2="673.50" y2="345.20" stroke="#555" stroke-width="0.8" />
<line x1="583.30" y1="326.30" x2="586.80" y2="326.30" stroke="#555" stroke-width="0.8" />
<line x1="583.30" y1="307.40" x2="586.80" y2="307.40" stroke="#555" stroke-width="0.8" />
<line x1="583.30" y1="288.50" x2="586.80" y2="288.50" stroke="#555" stroke-width="0.8" />
<line x1="583.30" y1="269.60" x2="586.80" y2="269.60" stroke="#555" stroke-width="0.8" />
<line x1="583.30" y1="250.70" x2="586.80" y2="250.70" stroke="#555" stroke-width="0.8" />
<line x1="583.30" y1="231.80" x2="586.80" y2="231.80" stroke="#555" stroke-width="0.8" />
<text x="580.80" y="235.00" font-size="9" text-anchor="end" fill="#333" >0.6</text>
<text x="580.80" y="272.80" font-size="9" text-anchor="end" fill="#333" >0.4</text>
<text x="580.80" y="310.60" font-size="9" text-anchor="end" fill="#333" >0.2</text>
<line x1="607.80" y1="345.20" x2="607.80" y2="348.30" stroke="#555" stroke-width="0.8" />
<line x1="651.10" y1="345.20" x2="651.10" y2="348.30" stroke="#555" stroke-width="0.8" />
<rect x="590.40" y="246.54" width="17.40" height="98.66" fill="#2b6ea0" />
<rect x="607.80" y="322.14" width="17.20" height="23.06" fill="#e07b28" />
<rect x="634.10" y="296.82" width="17.00" height="48.38" fill="#2b6ea0" />
<rect x="651.10" y="276.78" width="17.60" height="68.42" fill="#e07b28" />
<line x1="599.30" y1="235.00" x2="599.30" y2="257.30" stroke="#111" stroke-width="0.9" />
<text x="599.10" y="333.30" font-size="7.6" text-anchor="middle" fill="#fff" font-weight="bold" stroke="#fff" stroke-width="0.25">178</text>
<line x1="594.90" y1="335.80" x2="603.30" y2="335.80" stroke="#fff" stroke-width="0.7" />
<text x="599.10" y="343.60" font-size="7.6" text-anchor="middle" fill="#fff" font-weight="bold" stroke="#fff" stroke-width="0.25">342</text>
<line x1="616.50" y1="315.30" x2="616.50" y2="328.20" stroke="#111" stroke-width="0.9" />
<text x="616.40" y="333.30" font-size="7.6" text-anchor="middle" fill="#fff" font-weight="bold" stroke="#fff" stroke-width="0.25">41</text>
<line x1="612.20" y1="335.80" x2="620.60" y2="335.80" stroke="#fff" stroke-width="0.7" />
<text x="616.40" y="343.60" font-size="7.6" text-anchor="middle" fill="#fff" font-weight="bold" stroke="#fff" stroke-width="0.25">342</text>
<line x1="642.60" y1="280.00" x2="642.60" y2="313.90" stroke="#111" stroke-width="0.9" />
<text x="642.60" y="333.30" font-size="7.6" text-anchor="middle" fill="#fff" font-weight="bold" stroke="#fff" stroke-width="0.25">26</text>
<line x1="638.40" y1="335.80" x2="646.80" y2="335.80" stroke="#fff" stroke-width="0.7" />
<text x="642.60" y="343.60" font-size="7.6" text-anchor="middle" fill="#fff" font-weight="bold" stroke="#fff" stroke-width="0.25">103</text>
<line x1="660.00" y1="258.40" x2="660.00" y2="293.80" stroke="#111" stroke-width="0.9" />
<text x="659.90" y="333.30" font-size="7.6" text-anchor="middle" fill="#fff" font-weight="bold" stroke="#fff" stroke-width="0.25">37</text>
<line x1="655.70" y1="335.80" x2="664.10" y2="335.80" stroke="#fff" stroke-width="0.7" />
<text x="659.90" y="343.60" font-size="7.6" text-anchor="middle" fill="#fff" font-weight="bold" stroke="#fff" stroke-width="0.25">103</text>
<text x="612.60" y="253.00" font-size="7.7" fill="#3b82c4" textLength="40.40" lengthAdjust="spacingAndGlyphs" >Bell-shaped</text>
<text x="612.60" y="261.50" font-size="7.7" fill="#e8873a" textLength="19.40" lengthAdjust="spacingAndGlyphs" >Ramp</text>
<text x="588.00" y="357.60" font-size="7.7" fill="#2e8b57" textLength="37.00" lengthAdjust="spacingAndGlyphs" >Successful</text>
<text x="629.30" y="357.60" font-size="7.7" fill="#8b5a2b" textLength="45.40" lengthAdjust="spacingAndGlyphs" >Unsuccessful</text>
<text x="559.40" y="288.00" font-size="9" text-anchor="middle" textLength="94.90" lengthAdjust="spacingAndGlyphs" transform="rotate(-90 559.40 288.00)" >Fraction of tuning types</text>
<text x="-0.40" y="409.30" font-size="12" fill="#000" font-weight="bold" textLength="7.20" lengthAdjust="spacingAndGlyphs" stroke="#000" stroke-width="0.5">e</text>
<text x="66.60" y="417.50" font-size="9" textLength="220.40" lengthAdjust="spacingAndGlyphs" >Response peak location depends on evolution success</text>
<text x="71.70" y="432.80" font-size="7.6" fill="#2e8b57" textLength="68.60" lengthAdjust="spacingAndGlyphs" >Successful (<tspan font-style="italic">n</tspan> = 342)</text>
<text x="224.20" y="432.80" font-size="7.6" fill="#8b5a2b" textLength="76.70" lengthAdjust="spacingAndGlyphs" >Unsuccessful (<tspan font-style="italic">n</tspan> = 103)</text>
<line x1="30.20" y1="433.60" x2="30.20" y2="537.30" stroke="#555" stroke-width="0.8" />
<line x1="30.20" y1="537.30" x2="176.80" y2="537.30" stroke="#555" stroke-width="0.8" />
<line x1="27.00" y1="504.00" x2="30.20" y2="504.00" stroke="#555" stroke-width="0.8" />
<line x1="27.00" y1="470.70" x2="30.20" y2="470.70" stroke="#555" stroke-width="0.8" />
<line x1="27.00" y1="437.40" x2="30.20" y2="437.40" stroke="#555" stroke-width="0.8" />
<text x="25.20" y="440.60" font-size="9" text-anchor="end" fill="#333" >0.3</text>
<text x="25.20" y="473.90" font-size="9" text-anchor="end" fill="#333" >0.2</text>
<text x="25.20" y="507.20" font-size="9" text-anchor="end" fill="#333" >0.1</text>
<text x="25.20" y="540.50" font-size="9" text-anchor="end" fill="#333" >0</text>
<rect x="36.80" y="528.80" width="12.60" height="8.50" fill="#000" />
<line x1="43.10" y1="537.30" x2="43.10" y2="540.00" stroke="#555" stroke-width="0.8" />
<text x="46.10" y="546.90" font-size="7.7" text-anchor="end" fill="#222" transform="rotate(-45 46.10 546.90)" >−0.4</text>
<rect x="52.00" y="520.90" width="12.40" height="16.40" fill="#000" />
<line x1="58.20" y1="537.30" x2="58.20" y2="540.00" stroke="#555" stroke-width="0.8" />
<text x="61.20" y="546.90" font-size="7.7" text-anchor="end" fill="#222" transform="rotate(-45 61.20 546.90)" >−0.32</text>
<rect x="67.00" y="498.80" width="12.30" height="38.50" fill="#000" />
<line x1="73.15" y1="537.30" x2="73.15" y2="540.00" stroke="#555" stroke-width="0.8" />
<text x="76.15" y="546.90" font-size="7.7" text-anchor="end" fill="#222" transform="rotate(-45 76.15 546.90)" >−0.24</text>
<rect x="82.20" y="486.20" width="12.40" height="51.10" fill="#000" />
<line x1="88.40" y1="537.30" x2="88.40" y2="540.00" stroke="#555" stroke-width="0.8" />
<text x="91.40" y="546.90" font-size="7.7" text-anchor="end" fill="#222" transform="rotate(-45 91.40 546.90)" >−0.16</text>
<rect x="97.70" y="454.60" width="11.90" height="82.70" fill="#000" />
<line x1="103.65" y1="537.30" x2="103.65" y2="540.00" stroke="#555" stroke-width="0.8" />
<text x="106.65" y="546.90" font-size="7.7" text-anchor="end" fill="#222" transform="rotate(-45 106.65 546.90)" >0</text>
<rect x="113.00" y="486.20" width="11.80" height="51.10" fill="#000" />
<line x1="118.90" y1="537.30" x2="118.90" y2="540.00" stroke="#555" stroke-width="0.8" />
<text x="121.90" y="546.90" font-size="7.7" text-anchor="end" fill="#222" transform="rotate(-45 121.90 546.90)" >0.16</text>
<rect x="128.00" y="498.00" width="11.80" height="39.30" fill="#000" />
<line x1="133.90" y1="537.30" x2="133.90" y2="540.00" stroke="#555" stroke-width="0.8" />
<text x="136.90" y="546.90" font-size="7.7" text-anchor="end" fill="#222" transform="rotate(-45 136.90 546.90)" >0.24</text>
<rect x="143.20" y="513.30" width="11.80" height="24.00" fill="#000" />
<line x1="149.10" y1="537.30" x2="149.10" y2="540.00" stroke="#555" stroke-width="0.8" />
<text x="152.10" y="546.90" font-size="7.7" text-anchor="end" fill="#222" transform="rotate(-45 152.10 546.90)" >0.32</text>
<rect x="158.20" y="520.10" width="11.80" height="17.20" fill="#000" />
<line x1="164.10" y1="537.30" x2="164.10" y2="540.00" stroke="#555" stroke-width="0.8" />
<text x="167.10" y="546.90" font-size="7.7" text-anchor="end" fill="#222" transform="rotate(-45 167.10 546.90)" >0.4</text>
<g stroke="#f0605a" stroke-width="0.8"><line x1="43.10" y1="521.2" x2="43.10" y2="536.4"/><line x1="41.50" y1="521.2" x2="44.70" y2="521.2"/><line x1="41.50" y1="536.4" x2="44.70" y2="536.4"/></g>
<text x="43.10" y="535.80" font-size="7.8" text-anchor="middle" fill="#fff" font-weight="bold" >9</text>
<g stroke="#f0605a" stroke-width="0.8"><line x1="58.20" y1="511.2" x2="58.20" y2="530.6"/><line x1="56.60" y1="511.2" x2="59.80" y2="511.2"/><line x1="56.60" y1="530.6" x2="59.80" y2="530.6"/></g>
<text x="58.20" y="535.80" font-size="7.8" text-anchor="middle" fill="#fff" font-weight="bold" >17</text>
<g stroke="#f0605a" stroke-width="0.8"><line x1="73.15" y1="486.2" x2="73.15" y2="508.6"/><line x1="71.55" y1="486.2" x2="74.75" y2="486.2"/><line x1="71.55" y1="508.6" x2="74.75" y2="508.6"/></g>
<text x="73.15" y="535.80" font-size="7.8" text-anchor="middle" fill="#fff" font-weight="bold" >40</text>
<g stroke="#f0605a" stroke-width="0.8"><line x1="88.40" y1="472.3" x2="88.40" y2="497.5"/><line x1="86.80" y1="472.3" x2="90.00" y2="472.3"/><line x1="86.80" y1="497.5" x2="90.00" y2="497.5"/></g>
<text x="88.40" y="535.80" font-size="7.8" text-anchor="middle" fill="#fff" font-weight="bold" >53</text>
<g stroke="#f0605a" stroke-width="0.8"><line x1="103.65" y1="438.3" x2="103.65" y2="468.5"/><line x1="102.05" y1="438.3" x2="105.25" y2="438.3"/><line x1="102.05" y1="468.5" x2="105.25" y2="468.5"/></g>
<text x="103.65" y="535.80" font-size="7.8" text-anchor="middle" fill="#fff" font-weight="bold" >86</text>
<g stroke="#f0605a" stroke-width="0.8"><line x1="118.90" y1="472.3" x2="118.90" y2="497.5"/><line x1="117.30" y1="472.3" x2="120.50" y2="472.3"/><line x1="117.30" y1="497.5" x2="120.50" y2="497.5"/></g>
<text x="118.90" y="535.80" font-size="7.8" text-anchor="middle" fill="#fff" font-weight="bold" >53</text>
<g stroke="#f0605a" stroke-width="0.8"><line x1="133.90" y1="485.5" x2="133.90" y2="507.8"/><line x1="132.30" y1="485.5" x2="135.50" y2="485.5"/><line x1="132.30" y1="507.8" x2="135.50" y2="507.8"/></g>
<text x="133.90" y="535.80" font-size="7.8" text-anchor="middle" fill="#fff" font-weight="bold" >41</text>
<g stroke="#f0605a" stroke-width="0.8"><line x1="149.10" y1="502.3" x2="149.10" y2="521.2"/><line x1="147.50" y1="502.3" x2="150.70" y2="502.3"/><line x1="147.50" y1="521.2" x2="150.70" y2="521.2"/></g>
<text x="149.10" y="535.80" font-size="7.8" text-anchor="middle" fill="#fff" font-weight="bold" >25</text>
<g stroke="#f0605a" stroke-width="0.8"><line x1="164.10" y1="510.1" x2="164.10" y2="526.4"/><line x1="162.50" y1="510.1" x2="165.70" y2="510.1"/><line x1="162.50" y1="526.4" x2="165.70" y2="526.4"/></g>
<text x="164.10" y="535.80" font-size="7.8" text-anchor="middle" fill="#fff" font-weight="bold" >18</text>
<line x1="188.40" y1="433.60" x2="188.40" y2="537.30" stroke="#555" stroke-width="0.8" />
<line x1="188.40" y1="537.30" x2="335.00" y2="537.30" stroke="#555" stroke-width="0.8" />
<line x1="185.20" y1="504.00" x2="188.40" y2="504.00" stroke="#555" stroke-width="0.8" />
<line x1="185.20" y1="470.70" x2="188.40" y2="470.70" stroke="#555" stroke-width="0.8" />
<line x1="185.20" y1="437.40" x2="188.40" y2="437.40" stroke="#555" stroke-width="0.8" />
<rect x="196.30" y="512.00" width="11.80" height="25.30" fill="#000" />
<line x1="202.20" y1="537.30" x2="202.20" y2="540.00" stroke="#555" stroke-width="0.8" />
<text x="205.20" y="546.90" font-size="7.7" text-anchor="end" fill="#222" transform="rotate(-45 205.20 546.90)" >−0.4</text>
<rect x="211.30" y="486.20" width="12.00" height="51.10" fill="#000" />
<line x1="217.30" y1="537.30" x2="217.30" y2="540.00" stroke="#555" stroke-width="0.8" />
<text x="220.30" y="546.90" font-size="7.7" text-anchor="end" fill="#222" transform="rotate(-45 220.30 546.90)" >−0.32</text>
<rect x="226.20" y="489.40" width="12.10" height="47.90" fill="#000" />
<line x1="232.25" y1="537.30" x2="232.25" y2="540.00" stroke="#555" stroke-width="0.8" />
<text x="235.25" y="546.90" font-size="7.7" text-anchor="end" fill="#222" transform="rotate(-45 235.25 546.90)" >−0.24</text>
<rect x="241.50" y="499.10" width="12.10" height="38.20" fill="#000" />
<line x1="247.55" y1="537.30" x2="247.55" y2="540.00" stroke="#555" stroke-width="0.8" />
<text x="250.55" y="546.90" font-size="7.7" text-anchor="end" fill="#222" transform="rotate(-45 250.55 546.90)" >−0.16</text>
<rect x="256.40" y="515.10" width="11.90" height="22.20" fill="#000" />
<line x1="262.35" y1="537.30" x2="262.35" y2="540.00" stroke="#555" stroke-width="0.8" />
<text x="265.35" y="546.90" font-size="7.7" text-anchor="end" fill="#222" transform="rotate(-45 265.35 546.90)" >0</text>
<rect x="271.40" y="496.00" width="12.10" height="41.30" fill="#000" />
<line x1="277.45" y1="537.30" x2="277.45" y2="540.00" stroke="#555" stroke-width="0.8" />
<text x="280.45" y="546.90" font-size="7.7" text-anchor="end" fill="#222" transform="rotate(-45 280.45 546.90)" >0.16</text>
<rect x="286.70" y="499.10" width="12.00" height="38.20" fill="#000" />
<line x1="292.70" y1="537.30" x2="292.70" y2="540.00" stroke="#555" stroke-width="0.8" />
<text x="295.70" y="546.90" font-size="7.7" text-anchor="end" fill="#222" transform="rotate(-45 295.70 546.90)" >0.24</text>
<rect x="301.60" y="508.60" width="11.90" height="28.70" fill="#000" />
<line x1="307.55" y1="537.30" x2="307.55" y2="540.00" stroke="#555" stroke-width="0.8" />
<text x="310.55" y="546.90" font-size="7.7" text-anchor="end" fill="#222" transform="rotate(-45 310.55 546.90)" >0.32</text>
<rect x="316.60" y="502.30" width="12.10" height="35.00" fill="#000" />
<line x1="322.65" y1="537.30" x2="322.65" y2="540.00" stroke="#555" stroke-width="0.8" />
<text x="325.65" y="546.90" font-size="7.7" text-anchor="end" fill="#222" transform="rotate(-45 325.65 546.90)" >0.4</text>
<g stroke="#f0605a" stroke-width="0.8"><line x1="202.20" y1="489.4" x2="202.20" y2="524.3"/><line x1="200.60" y1="489.4" x2="203.80" y2="489.4"/><line x1="200.60" y1="524.3" x2="203.80" y2="524.3"/></g>
<text x="202.20" y="535.80" font-size="7.8" text-anchor="middle" fill="#fff" font-weight="bold" >8</text>
<g stroke="#f0605a" stroke-width="0.8"><line x1="217.30" y1="459.3" x2="217.30" y2="505.1"/><line x1="215.70" y1="459.3" x2="218.90" y2="459.3"/><line x1="215.70" y1="505.1" x2="218.90" y2="505.1"/></g>
<text x="217.30" y="535.80" font-size="7.8" text-anchor="middle" fill="#fff" font-weight="bold" >16</text>
<g stroke="#f0605a" stroke-width="0.8"><line x1="232.25" y1="462.6" x2="232.25" y2="507.2"/><line x1="230.65" y1="462.6" x2="233.85" y2="462.6"/><line x1="230.65" y1="507.2" x2="233.85" y2="507.2"/></g>
<text x="232.25" y="535.80" font-size="7.8" text-anchor="middle" fill="#fff" font-weight="bold" >15</text>
<g stroke="#f0605a" stroke-width="0.8"><line x1="247.55" y1="473.9" x2="247.55" y2="515.1"/><line x1="245.95" y1="473.9" x2="249.15" y2="473.9"/><line x1="245.95" y1="515.1" x2="249.15" y2="515.1"/></g>
<text x="247.55" y="535.80" font-size="7.8" text-anchor="middle" fill="#fff" font-weight="bold" >12</text>
<g stroke="#f0605a" stroke-width="0.8"><line x1="262.35" y1="493.3" x2="262.35" y2="526.4"/><line x1="260.75" y1="493.3" x2="263.95" y2="493.3"/><line x1="260.75" y1="526.4" x2="263.95" y2="526.4"/></g>
<text x="262.35" y="535.80" font-size="7.8" text-anchor="middle" fill="#fff" font-weight="bold" >7</text>
<g stroke="#f0605a" stroke-width="0.8"><line x1="277.45" y1="470.2" x2="277.45" y2="512.5"/><line x1="275.85" y1="470.2" x2="279.05" y2="470.2"/><line x1="275.85" y1="512.5" x2="279.05" y2="512.5"/></g>
<text x="277.45" y="535.80" font-size="7.8" text-anchor="middle" fill="#fff" font-weight="bold" >13</text>
<g stroke="#f0605a" stroke-width="0.8"><line x1="292.70" y1="473.9" x2="292.70" y2="512.0"/><line x1="291.10" y1="473.9" x2="294.30" y2="473.9"/><line x1="291.10" y1="512.0" x2="294.30" y2="512.0"/></g>
<text x="292.70" y="535.80" font-size="7.8" text-anchor="middle" fill="#fff" font-weight="bold" >12</text>
<g stroke="#f0605a" stroke-width="0.8"><line x1="307.55" y1="485.2" x2="307.55" y2="522.2"/><line x1="305.95" y1="485.2" x2="309.15" y2="485.2"/><line x1="305.95" y1="522.2" x2="309.15" y2="522.2"/></g>
<text x="307.55" y="535.80" font-size="7.8" text-anchor="middle" fill="#fff" font-weight="bold" >9</text>
<g stroke="#f0605a" stroke-width="0.8"><line x1="322.65" y1="477.3" x2="322.65" y2="517.2"/><line x1="321.05" y1="477.3" x2="324.25" y2="477.3"/><line x1="321.05" y1="517.2" x2="324.25" y2="517.2"/></g>
<text x="322.65" y="535.80" font-size="7.8" text-anchor="middle" fill="#fff" font-weight="bold" >11</text>
<text x="61.70" y="570.20" font-size="9" textLength="84.30" lengthAdjust="spacingAndGlyphs" >Peak location on axis</text>
<text x="220.40" y="570.40" font-size="9" textLength="84.10" lengthAdjust="spacingAndGlyphs" >Peak location on axis</text>
<text x="9.30" y="485.80" font-size="9" text-anchor="middle" textLength="95.60" lengthAdjust="spacingAndGlyphs" transform="rotate(-90 9.30 485.80)" >Fraction of tuning curve</text>
<text x="376.50" y="410.20" font-size="12" fill="#000" font-weight="bold" textLength="8.00" lengthAdjust="spacingAndGlyphs" stroke="#000" stroke-width="0.5">g</text>
<text x="390.90" y="429.50" font-size="9" textLength="78.30" lengthAdjust="spacingAndGlyphs" >Tuning curve shape</text>
<text x="405.60" y="438.80" font-size="9" textLength="47.50" lengthAdjust="spacingAndGlyphs" >depends on</text>
<text x="391.60" y="449.30" font-size="9" textLength="76.20" lengthAdjust="spacingAndGlyphs" >landscape location</text>
<text x="581.70" y="425.30" font-size="9" fill="#3b82c4" textLength="98.80" lengthAdjust="spacingAndGlyphs" >Bell shape tuning curves</text>
<text x="612.30" y="435.70" font-size="9" textLength="37.40" lengthAdjust="spacingAndGlyphs" >following</text>
<text x="589.50" y="445.70" font-size="9" fill="#2e8b57" textLength="82.70" lengthAdjust="spacingAndGlyphs" >successful evolution</text>
<text x="578.70" y="561.80" font-size="9" fill="#e8873a" textLength="106.00" lengthAdjust="spacingAndGlyphs" >Ramp or flat tuning curves</text>
<text x="613.30" y="572.20" font-size="9" textLength="37.30" lengthAdjust="spacingAndGlyphs" >following</text>
<text x="585.40" y="582.30" font-size="9" fill="#8b5a2b" textLength="92.40" lengthAdjust="spacingAndGlyphs" >unsuccessful evolution</text>
<text x="394.70" y="532.50" font-size="9" textLength="36.70" lengthAdjust="spacingAndGlyphs" >Neuronal</text>
<text x="394.70" y="542.30" font-size="9" textLength="36.50" lengthAdjust="spacingAndGlyphs" >response</text>
<text x="397.80" y="573.30" font-size="9" textLength="71.50" lengthAdjust="spacingAndGlyphs" >Image space axes</text>
<text x="397.80" y="583.00" font-size="9" textLength="36.30" lengthAdjust="spacingAndGlyphs" >(BigGAN)</text>
<line x1="390.80" y1="560.60" x2="390.80" y2="529.00" stroke="#000" stroke-width="1.1" />
<polygon points="390.80,525.4 388.80,530.6 392.80,530.6" fill="#000"/>
<line x1="390.80" y1="560.60" x2="422.50" y2="560.60" stroke="#000" stroke-width="1.1" />
<polygon points="426.4,560.60 421.2,558.60 421.2,562.60" fill="#000"/>
<line x1="390.80" y1="560.60" x2="375.50" y2="572.60" stroke="#000" stroke-width="1.1" />
<polygon points="372.6,574.8 374.0,569.6 377.6,574.2" fill="#000"/>
<path d="M481.7,484 C488,476 496,468.5 502,462.7 C510,455 518,446 523.3,441.3 C527,437 529.5,432.5 531.8,430.7 C534,428.5 536,427.3 537.5,427.3 C540,427.3 542,429 544,431 C552,440 565,455 578,469 C590,482 600,494 610,502 C620,510 630,516 638.1,520.1 C632,521 628,521.5 625.6,522.5 C620,525 614,530 608.9,533.2 C602,537 596,540 589.8,542.8 C580,547 572,551 565.9,554.7 C557,559 548,563 542,565.5 C537,567.5 533,569 530,569.1 C522,568.5 513,566 506.1,563.2 C499,559 492,554 486.8,550.3 C480,545 473,540 466.3,538.5 L470,536.2 C478,533 486,529 491.3,526.6 C500,522 508,518 514.8,514.9 C510,511 507,509 504.1,507.4 C499,502 495,498 491.3,494.6 C488,491 485,487 481.7,484 Z" fill="url(#gmt)"/>
<path d="M394.7,517.6 C405,513 412,509.5 417.8,506.1 C428,500 438,493 446.3,487.5 C451,484 455,481 459.4,479.2 C463,477.8 466,477.8 469.3,478.3 C473,479 476,481 479.2,483.1 C480,483.5 481,483.7 481.7,484 C485,487 488,491 491.3,494.6 C495,498 499,502 504.1,507.4 C507,509 510,511 514.8,514.9 C508,518 500,522 491.3,526.6 C486,529 478,533 470,536.2 L466.3,538.5 C460,535.5 455,533 450.7,530.5 C443,527 436,525.5 428.8,524 C418,522 405,519.5 394.7,517.6 Z" fill="url(#ghl)"/>
<path d="M481.7,484 C488,476 496,468.5 502,462.7 C510,455 518,446 523.3,441.3 C527,437 529.5,432.5 531.8,430.7 C534,428.5 536,427.3 537.5,427.3 C540,427.3 542,429 544,431 C552,440 565,455 578,469 C590,482 600,494 610,502 C620,510 630,516 638.1,520.1 C632,521 628,521.5 625.6,522.5 C620,525 614,530 608.9,533.2 C602,537 596,540 589.8,542.8 C580,547 572,551 565.9,554.7 C557,559 548,563 542,565.5 C537,567.5 533,569 530,569.1 C522,568.5 513,566 506.1,563.2 C499,559 492,554 486.8,550.3 C480,545 473,540 466.3,538.5 L470,536.2 C478,533 486,529 491.3,526.6 C500,522 508,518 514.8,514.9 C510,511 507,509 504.1,507.4 C499,502 495,498 491.3,494.6 C488,491 485,487 481.7,484 Z" fill="none" stroke="#000" stroke-width="1.7" stroke-linejoin="round"/>
<path d="M394.7,517.6 C405,513 412,509.5 417.8,506.1 C428,500 438,493 446.3,487.5 C451,484 455,481 459.4,479.2 C463,477.8 466,477.8 469.3,478.3 C473,479 476,481 479.2,483.1 C480,483.5 481,483.7 481.7,484 C485,487 488,491 491.3,494.6 C495,498 499,502 504.1,507.4 C507,509 510,511 514.8,514.9 C508,518 500,522 491.3,526.6 C486,529 478,533 470,536.2 L466.3,538.5 C460,535.5 455,533 450.7,530.5 C443,527 436,525.5 428.8,524 C418,522 405,519.5 394.7,517.6 Z" fill="none" stroke="#000" stroke-width="1.7" stroke-linejoin="round"/>
<path d="M538.2,429.6 C536.5,433 536.1,437 536.1,445 C536.1,452 536.5,458 539,465 C541,470 545,476 546.8,481.8 C548,487 546.5,490 544.6,492.5 C541,498 537,501 534,504.2 C528,508 520,512 514.8,514.9" fill="none" stroke="#000" stroke-width="1.3"/>
<path d="M493.5,465.7 C500,456 507,446 513,439 C519,432 526,426 533,424 C542,421.5 552,424.5 560,431 C564,434.5 566.5,438 568.5,441.5" fill="none" stroke="#2f78b8" stroke-width="1.9" stroke-linecap="round"/>
<path d="M477.5,538.4 C484,534.5 491,531.5 500,528 C510,524.5 518,522.5 523.3,519.2 C529,515.5 531.5,510 531.8,500 C532,490 530,484 528.6,478 C526.5,470 525.5,462.7 525.5,455 C525.5,447 526.5,440 530.5,434.5" fill="none" stroke="#15803d" stroke-width="1.25"/>
<polygon points="533.5,430.8 528.6,433.6 532.4,436.0" fill="#15803d"/>
<path d="M515.5,557.6 C520,550 528,536 536.7,528.5 C541,525 544,525.5 547.3,525.8 C553,526.5 558,528 563.2,527.1 C567,526 569,523.5 571.1,520.5 C573,517 574.5,514 576.5,511" fill="none" stroke="#6b4a2a" stroke-width="1.3"/>
<polygon points="579.2,506.6 574.0,509.6 578.4,512.6" fill="#6b4a2a"/>
<path d="M552.7,462 C558,468 564,474 568.3,479.4 C574,487 578,496 581.4,504.5 C585,512 589,518 592.2,522.5 C595,527 598,530 600.5,532 C604,535 607,537 610.1,538" fill="none" stroke="#ee8a2a" stroke-width="2.0" stroke-linecap="round"/>
<line x1="493.50" y1="432.90" x2="493.50" y2="465.70" stroke="#000" stroke-width="1.25" stroke-dasharray="1.3,1.1"/>
<line x1="512.20" y1="428.00" x2="512.20" y2="439.40" stroke="#000" stroke-width="1.25" stroke-dasharray="1.3,1.1"/>
<line x1="549.60" y1="418.20" x2="549.60" y2="424.50" stroke="#000" stroke-width="1.25" stroke-dasharray="1.3,1.1"/>
<line x1="568.50" y1="413.10" x2="568.50" y2="441.20" stroke="#000" stroke-width="1.25" stroke-dasharray="1.3,1.1"/>
<line x1="502.60" y1="408.20" x2="559.60" y2="438.50" stroke="#111" stroke-width="1.25" />
<line x1="493.50" y1="432.90" x2="568.50" y2="413.10" stroke="#111" stroke-width="1.25" />
<circle cx="502.60" cy="408.20" r="2.1" fill="#d9473f" stroke="#2a1515" stroke-width="0.6" />
<circle cx="516.60" cy="416.10" r="2.1" fill="#d9473f" stroke="#2a1515" stroke-width="0.6" />
<circle cx="545.20" cy="431.00" r="2.1" fill="#d9473f" stroke="#2a1515" stroke-width="0.6" />
<circle cx="559.60" cy="438.50" r="2.1" fill="#d9473f" stroke="#2a1515" stroke-width="0.6" />
<circle cx="493.50" cy="432.90" r="2.1" fill="#d9473f" stroke="#2a1515" stroke-width="0.6" />
<circle cx="512.20" cy="428.00" r="2.1" fill="#d9473f" stroke="#2a1515" stroke-width="0.6" />
<circle cx="549.60" cy="418.20" r="2.1" fill="#d9473f" stroke="#2a1515" stroke-width="0.6" />
<circle cx="568.50" cy="413.10" r="2.1" fill="#d9473f" stroke="#2a1515" stroke-width="0.6" />
<polygon points="530.60,427.20 529.48,424.14 526.23,424.02 528.79,422.01 527.90,418.88 530.60,420.70 533.30,418.88 532.41,422.01 534.97,424.02 531.72,424.14" fill="#000"/>
<polygon points="530.60,424.62 529.82,423.68 528.68,423.23 529.34,422.19 529.41,420.96 530.60,421.27 531.79,420.96 531.86,422.19 532.52,423.23 531.38,423.68" fill="#d9473f"/>
<line x1="553.40" y1="462.00" x2="553.40" y2="487.80" stroke="#000" stroke-width="1.25" stroke-dasharray="1.3,1.1"/>
<line x1="567.80" y1="479.40" x2="567.80" y2="495.50" stroke="#000" stroke-width="1.25" stroke-dasharray="1.3,1.1"/>
<line x1="596.50" y1="510.50" x2="596.50" y2="524.90" stroke="#000" stroke-width="1.25" stroke-dasharray="1.3,1.1"/>
<line x1="610.80" y1="517.70" x2="610.80" y2="538.00" stroke="#000" stroke-width="1.25" stroke-dasharray="1.3,1.1"/>
<line x1="553.40" y1="487.80" x2="610.80" y2="517.70" stroke="#111" stroke-width="1.25" />
<line x1="544.80" y1="512.20" x2="619.60" y2="492.10" stroke="#111" stroke-width="1.25" />
<circle cx="553.40" cy="487.80" r="2.1" fill="#d9473f" stroke="#2a1515" stroke-width="0.6" />
<circle cx="567.80" cy="495.50" r="2.1" fill="#d9473f" stroke="#2a1515" stroke-width="0.6" />
<circle cx="596.50" cy="510.50" r="2.1" fill="#d9473f" stroke="#2a1515" stroke-width="0.6" />
<circle cx="610.80" cy="517.70" r="2.1" fill="#d9473f" stroke="#2a1515" stroke-width="0.6" />
<circle cx="544.80" cy="512.20" r="2.1" fill="#d9473f" stroke="#2a1515" stroke-width="0.6" />
<circle cx="563.50" cy="507.70" r="2.1" fill="#d9473f" stroke="#2a1515" stroke-width="0.6" />
<circle cx="601.00" cy="497.40" r="2.1" fill="#d9473f" stroke="#2a1515" stroke-width="0.6" />
<circle cx="619.60" cy="492.10" r="2.1" fill="#d9473f" stroke="#2a1515" stroke-width="0.6" />
</svg>
</body></html>
